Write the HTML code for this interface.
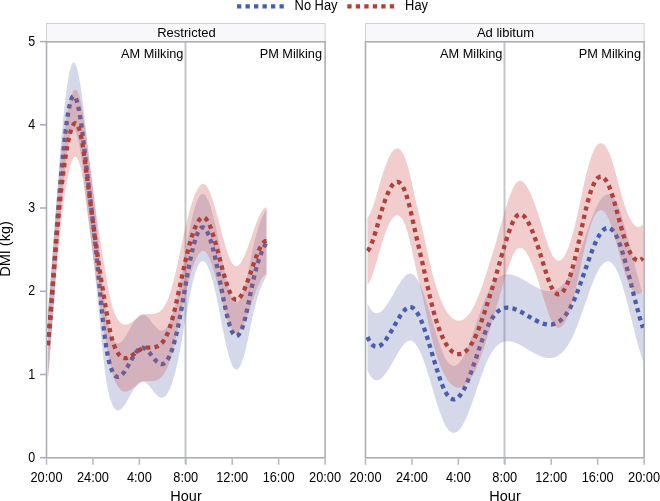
<!DOCTYPE html>
<html><head><meta charset="utf-8"><title>DMI by Hour</title>
<style>html,body{margin:0;padding:0;background:#fff;}svg{display:block;will-change:transform;}</style>
</head><body>
<svg width="660" height="501" viewBox="0 0 660 501">
<rect width="660" height="501" fill="#fff"/>
<line x1="237" y1="6.4" x2="288" y2="6.4" stroke="#4A5DAC" stroke-width="4.3" stroke-dasharray="4.3 4.2"/>
<text transform="translate(294.6,9.8) scale(0.92,1)" font-family="Liberation Sans, sans-serif" font-size="14" fill="#000">No Hay</text>
<line x1="347.3" y1="6.4" x2="398" y2="6.4" stroke="#B0403A" stroke-width="4.3" stroke-dasharray="4.3 4.2"/>
<text transform="translate(405.1,9.8) scale(0.92,1)" font-family="Liberation Sans, sans-serif" font-size="14" fill="#000">Hay</text>
<rect x="46.5" y="23.5" width="278.6" height="18" fill="#F8F8FA" stroke="#D0D0D0" stroke-width="1"/>
<text x="186.5" y="36.5" font-family="Liberation Sans, sans-serif" font-size="13" text-anchor="middle" fill="#000">Restricted</text>
<line x1="185.5" y1="42" x2="185.5" y2="464" stroke="#C3C6CA" stroke-width="2"/>
<rect x="46.5" y="41.8" width="278.6" height="416" fill="none" stroke="#ABAFB4" stroke-width="1.6"/>
<line x1="46.5" y1="458.6" x2="46.5" y2="464.8" stroke="#B8BCC0" stroke-width="1.6"/>
<line x1="92.93" y1="458.6" x2="92.93" y2="464.8" stroke="#B8BCC0" stroke-width="1.6"/>
<line x1="139.36" y1="458.6" x2="139.36" y2="464.8" stroke="#B8BCC0" stroke-width="1.6"/>
<line x1="185.79" y1="458.6" x2="185.79" y2="464.8" stroke="#B8BCC0" stroke-width="1.6"/>
<line x1="232.22" y1="458.6" x2="232.22" y2="464.8" stroke="#B8BCC0" stroke-width="1.6"/>
<line x1="278.65" y1="458.6" x2="278.65" y2="464.8" stroke="#B8BCC0" stroke-width="1.6"/>
<line x1="325.08" y1="458.6" x2="325.08" y2="464.8" stroke="#B8BCC0" stroke-width="1.6"/>
<text transform="translate(46.5,482.1) scale(0.895,1)" font-family="Liberation Sans, sans-serif" font-size="14.3" text-anchor="middle" fill="#000">20:00</text>
<text transform="translate(92.93,482.1) scale(0.895,1)" font-family="Liberation Sans, sans-serif" font-size="14.3" text-anchor="middle" fill="#000">24:00</text>
<text transform="translate(139.36,482.1) scale(0.895,1)" font-family="Liberation Sans, sans-serif" font-size="14.3" text-anchor="middle" fill="#000">4:00</text>
<text transform="translate(185.79,482.1) scale(0.895,1)" font-family="Liberation Sans, sans-serif" font-size="14.3" text-anchor="middle" fill="#000">8:00</text>
<text transform="translate(232.22,482.1) scale(0.895,1)" font-family="Liberation Sans, sans-serif" font-size="14.3" text-anchor="middle" fill="#000">12:00</text>
<text transform="translate(278.65,482.1) scale(0.895,1)" font-family="Liberation Sans, sans-serif" font-size="14.3" text-anchor="middle" fill="#000">16:00</text>
<text transform="translate(325.08,482.1) scale(0.895,1)" font-family="Liberation Sans, sans-serif" font-size="14.3" text-anchor="middle" fill="#000">20:00</text>
<text x="322" y="57.6" font-family="Liberation Sans, sans-serif" font-size="12.75" text-anchor="end" fill="#000">PM Milking</text>
<text x="183.4" y="57.6" font-family="Liberation Sans, sans-serif" font-size="12.75" text-anchor="end" fill="#000">AM Milking</text>
<text x="186" y="500.8" font-family="Liberation Sans, sans-serif" font-size="14.5" text-anchor="middle" fill="#000">Hour</text>
<rect x="365.5" y="23.5" width="278.6" height="18" fill="#F8F8FA" stroke="#D0D0D0" stroke-width="1"/>
<text x="505.5" y="36.5" font-family="Liberation Sans, sans-serif" font-size="13" text-anchor="middle" fill="#000">Ad libitum</text>
<line x1="504.5" y1="42" x2="504.5" y2="464" stroke="#C3C6CA" stroke-width="2"/>
<rect x="365.5" y="41.8" width="278.6" height="416" fill="none" stroke="#ABAFB4" stroke-width="1.6"/>
<line x1="365.5" y1="458.6" x2="365.5" y2="464.8" stroke="#B8BCC0" stroke-width="1.6"/>
<line x1="411.93" y1="458.6" x2="411.93" y2="464.8" stroke="#B8BCC0" stroke-width="1.6"/>
<line x1="458.36" y1="458.6" x2="458.36" y2="464.8" stroke="#B8BCC0" stroke-width="1.6"/>
<line x1="504.78999999999996" y1="458.6" x2="504.78999999999996" y2="464.8" stroke="#B8BCC0" stroke-width="1.6"/>
<line x1="551.22" y1="458.6" x2="551.22" y2="464.8" stroke="#B8BCC0" stroke-width="1.6"/>
<line x1="597.65" y1="458.6" x2="597.65" y2="464.8" stroke="#B8BCC0" stroke-width="1.6"/>
<line x1="644.0799999999999" y1="458.6" x2="644.0799999999999" y2="464.8" stroke="#B8BCC0" stroke-width="1.6"/>
<text transform="translate(365.5,482.1) scale(0.895,1)" font-family="Liberation Sans, sans-serif" font-size="14.3" text-anchor="middle" fill="#000">20:00</text>
<text transform="translate(411.93,482.1) scale(0.895,1)" font-family="Liberation Sans, sans-serif" font-size="14.3" text-anchor="middle" fill="#000">24:00</text>
<text transform="translate(458.36,482.1) scale(0.895,1)" font-family="Liberation Sans, sans-serif" font-size="14.3" text-anchor="middle" fill="#000">4:00</text>
<text transform="translate(504.78999999999996,482.1) scale(0.895,1)" font-family="Liberation Sans, sans-serif" font-size="14.3" text-anchor="middle" fill="#000">8:00</text>
<text transform="translate(551.22,482.1) scale(0.895,1)" font-family="Liberation Sans, sans-serif" font-size="14.3" text-anchor="middle" fill="#000">12:00</text>
<text transform="translate(597.65,482.1) scale(0.895,1)" font-family="Liberation Sans, sans-serif" font-size="14.3" text-anchor="middle" fill="#000">16:00</text>
<text transform="translate(644.0799999999999,482.1) scale(0.895,1)" font-family="Liberation Sans, sans-serif" font-size="14.3" text-anchor="middle" fill="#000">20:00</text>
<text x="641" y="57.6" font-family="Liberation Sans, sans-serif" font-size="12.75" text-anchor="end" fill="#000">PM Milking</text>
<text x="502.4" y="57.6" font-family="Liberation Sans, sans-serif" font-size="12.75" text-anchor="end" fill="#000">AM Milking</text>
<text x="505" y="500.8" font-family="Liberation Sans, sans-serif" font-size="14.5" text-anchor="middle" fill="#000">Hour</text>
<clipPath id="cL"><rect x="47" y="42" width="278" height="415"/></clipPath>
<g clip-path="url(#cL)">
<polygon points="47.8,311.9 48.3,307.4 48.8,302.5 49.3,297.2 49.8,291.5 50.3,285.6 50.8,279.3 51.3,272.8 51.8,266.1 52.3,259.3 52.8,252.2 53.3,245.2 53.8,238.0 54.3,230.8 54.8,223.7 55.3,216.6 55.8,209.5 56.3,202.6 56.8,195.7 57.3,189.0 57.8,182.3 58.3,175.7 58.8,169.3 59.3,163.0 59.8,156.9 60.3,150.9 60.8,145.0 61.3,139.4 61.8,133.8 62.3,128.5 62.8,123.3 63.3,118.3 63.8,113.4 64.3,108.8 64.8,104.3 65.3,100.0 65.8,95.9 66.3,92.0 66.8,88.3 67.3,84.9 67.8,81.6 68.3,78.6 68.8,75.9 69.3,73.3 69.8,71.1 70.3,69.0 70.8,67.3 71.3,65.8 71.8,64.6 72.3,63.7 72.8,63.0 73.3,62.7 73.8,62.6 74.3,62.8 74.8,63.2 75.3,63.9 75.8,64.9 76.3,66.1 76.8,67.5 77.3,69.2 77.8,71.2 78.3,73.4 78.8,75.8 79.3,78.4 79.8,81.2 80.3,84.3 80.8,87.5 81.3,91.0 81.8,94.7 82.3,98.5 82.8,102.5 83.3,106.7 83.8,110.9 84.3,115.3 84.8,119.6 85.3,124.0 85.8,128.4 86.3,132.7 86.8,137.0 87.3,141.2 87.8,145.4 88.3,149.5 88.8,153.6 89.3,157.7 89.8,161.7 90.3,165.8 90.8,170.0 91.3,174.1 91.8,178.3 92.3,182.6 92.8,186.9 93.3,191.3 93.8,195.8 94.3,200.4 94.8,205.0 95.3,209.8 95.8,214.6 96.3,219.5 96.8,224.5 97.3,229.6 97.8,234.6 98.3,239.8 98.8,245.0 99.3,250.2 99.8,255.5 100.3,260.7 100.8,265.9 101.3,271.1 101.8,276.1 102.3,281.0 102.8,285.8 103.3,290.5 103.8,294.9 104.3,299.1 104.8,303.2 105.3,306.9 105.8,310.4 106.3,313.7 106.8,316.7 107.3,319.5 107.8,322.1 108.3,324.5 108.8,326.7 109.3,328.7 109.8,330.6 110.3,332.3 110.8,333.8 111.3,335.2 111.8,336.5 112.3,337.6 112.8,338.7 113.3,339.6 113.8,340.4 114.3,341.1 114.8,341.7 115.3,342.2 115.8,342.7 116.3,343.0 116.8,343.2 117.3,343.4 117.8,343.4 118.3,343.4 118.8,343.3 119.3,343.2 119.8,343.0 120.3,342.7 120.8,342.3 121.3,341.9 121.8,341.4 122.3,340.9 122.8,340.3 123.3,339.7 123.8,339.1 124.3,338.4 124.8,337.7 125.3,336.9 125.8,336.1 126.3,335.3 126.8,334.4 127.3,333.6 127.8,332.7 128.3,331.8 128.8,330.9 129.3,330.0 129.8,329.1 130.3,328.2 130.8,327.3 131.3,326.4 131.8,325.5 132.3,324.7 132.8,323.8 133.3,323.0 133.8,322.2 134.3,321.4 134.8,320.6 135.3,319.9 135.8,319.2 136.3,318.6 136.8,317.9 137.3,317.3 137.8,316.8 138.3,316.3 138.8,315.9 139.3,315.5 139.8,315.1 140.3,314.8 140.8,314.6 141.3,314.4 141.8,314.3 142.3,314.2 142.8,314.2 143.3,314.3 143.8,314.5 144.3,314.7 144.8,314.9 145.3,315.2 145.8,315.6 146.3,316.0 146.8,316.4 147.3,316.9 147.8,317.4 148.3,317.9 148.8,318.5 149.3,319.0 149.8,319.6 150.3,320.3 150.8,320.9 151.3,321.5 151.8,322.2 152.3,322.8 152.8,323.4 153.3,324.1 153.8,324.7 154.3,325.3 154.8,325.9 155.3,326.5 155.8,327.0 156.3,327.6 156.8,328.1 157.3,328.5 157.8,329.0 158.3,329.4 158.8,329.7 159.3,330.0 159.8,330.3 160.3,330.5 160.8,330.6 161.3,330.7 161.8,330.7 162.3,330.7 162.8,330.5 163.3,330.4 163.8,330.1 164.3,329.8 164.8,329.4 165.3,329.0 165.8,328.5 166.3,327.9 166.8,327.2 167.3,326.5 167.8,325.7 168.3,324.8 168.8,323.9 169.3,322.9 169.8,321.8 170.3,320.6 170.8,319.4 171.3,318.1 171.8,316.7 172.3,315.3 172.8,313.7 173.3,312.1 173.8,310.4 174.3,308.7 174.8,306.8 175.3,304.9 175.8,302.9 176.3,300.8 176.8,298.7 177.3,296.5 177.8,294.1 178.3,291.7 178.8,289.3 179.3,286.7 179.8,284.1 180.3,281.5 180.8,278.7 181.3,276.0 181.8,273.2 182.3,270.4 182.8,267.5 183.3,264.6 183.8,261.8 184.3,258.9 184.8,256.0 185.3,253.1 185.8,250.2 186.3,247.4 186.8,244.6 187.3,241.8 187.8,239.1 188.3,236.4 188.8,233.7 189.3,231.2 189.8,228.7 190.3,226.2 190.8,223.8 191.3,221.5 191.8,219.3 192.3,217.1 192.8,215.1 193.3,213.1 193.8,211.2 194.3,209.3 194.8,207.6 195.3,206.0 195.8,204.4 196.3,203.0 196.8,201.6 197.3,200.4 197.8,199.2 198.3,198.2 198.8,197.3 199.3,196.4 199.8,195.7 200.3,195.2 200.8,194.7 201.3,194.4 201.8,194.1 202.3,194.0 202.8,194.0 203.3,194.1 203.8,194.3 204.3,194.6 204.8,195.1 205.3,195.6 205.8,196.2 206.3,196.9 206.8,197.7 207.3,198.6 207.8,199.7 208.3,200.8 208.8,201.9 209.3,203.2 209.8,204.6 210.3,206.0 210.8,207.6 211.3,209.2 211.8,210.9 212.3,212.6 212.8,214.5 213.3,216.4 213.8,218.4 214.3,220.4 214.8,222.6 215.3,224.8 215.8,227.0 216.3,229.3 216.8,231.7 217.3,234.1 217.8,236.6 218.3,239.1 218.8,241.6 219.3,244.2 219.8,246.7 220.3,249.3 220.8,251.9 221.3,254.4 221.8,257.0 222.3,259.5 222.8,262.1 223.3,264.6 223.8,267.0 224.3,269.5 224.8,271.8 225.3,274.2 225.8,276.5 226.3,278.7 226.8,280.8 227.3,282.9 227.8,284.9 228.3,286.8 228.8,288.7 229.3,290.4 229.8,292.1 230.3,293.6 230.8,295.0 231.3,296.3 231.8,297.5 232.3,298.5 232.8,299.5 233.3,300.3 233.8,300.9 234.3,301.5 234.8,301.9 235.3,302.2 235.8,302.4 236.3,302.4 236.8,302.4 237.3,302.2 237.8,301.9 238.3,301.5 238.8,300.9 239.3,300.3 239.8,299.5 240.3,298.6 240.8,297.6 241.3,296.5 241.8,295.3 242.3,294.0 242.8,292.5 243.3,291.0 243.8,289.3 244.3,287.6 244.8,285.7 245.3,283.8 245.8,281.7 246.3,279.6 246.8,277.4 247.3,275.2 247.8,272.9 248.3,270.5 248.8,268.2 249.3,265.8 249.8,263.3 250.3,260.9 250.8,258.5 251.3,256.1 251.8,253.7 252.3,251.3 252.8,249.0 253.3,246.7 253.8,244.5 254.3,242.4 254.8,240.3 255.3,238.3 255.8,236.4 256.3,234.5 256.8,232.7 257.3,231.0 257.8,229.3 258.3,227.8 258.8,226.2 259.3,224.8 259.8,223.4 260.3,222.0 260.8,220.7 261.3,219.5 261.8,218.3 262.3,217.1 262.8,216.0 263.3,215.0 263.8,213.9 264.3,212.9 264.8,212.0 265.3,211.1 265.8,210.2 266.3,209.3 266.5,209.0 266.5,276.0 266.3,276.3 265.8,277.2 265.3,278.1 264.8,279.0 264.3,279.9 263.8,280.9 263.3,282.0 262.8,283.0 262.3,284.1 261.8,285.3 261.3,286.5 260.8,287.7 260.3,289.0 259.8,290.4 259.3,291.8 258.8,293.2 258.3,294.8 257.8,296.3 257.3,298.0 256.8,299.7 256.3,301.5 255.8,303.4 255.3,305.3 254.8,307.3 254.3,309.4 253.8,311.5 253.3,313.7 252.8,316.0 252.3,318.3 251.8,320.7 251.3,323.1 250.8,325.5 250.3,327.9 249.8,330.3 249.3,332.8 248.8,335.2 248.3,337.5 247.8,339.9 247.3,342.2 246.8,344.4 246.3,346.6 245.8,348.7 245.3,350.8 244.8,352.7 244.3,354.6 243.8,356.3 243.3,358.0 242.8,359.5 242.3,361.0 241.8,362.3 241.3,363.5 240.8,364.6 240.3,365.6 239.8,366.5 239.3,367.3 238.8,367.9 238.3,368.5 237.8,368.9 237.3,369.2 236.8,369.4 236.3,369.4 235.8,369.4 235.3,369.2 234.8,368.9 234.3,368.5 233.8,367.9 233.3,367.3 232.8,366.5 232.3,365.5 231.8,364.5 231.3,363.3 230.8,362.0 230.3,360.6 229.8,359.1 229.3,357.4 228.8,355.7 228.3,353.8 227.8,351.9 227.3,349.9 226.8,347.8 226.3,345.7 225.8,343.5 225.3,341.2 224.8,338.8 224.3,336.5 223.8,334.0 223.3,331.6 222.8,329.1 222.3,326.5 221.8,324.0 221.3,321.4 220.8,318.9 220.3,316.3 219.8,313.7 219.3,311.2 218.8,308.6 218.3,306.1 217.8,303.6 217.3,301.1 216.8,298.7 216.3,296.3 215.8,294.0 215.3,291.8 214.8,289.6 214.3,287.4 213.8,285.4 213.3,283.4 212.8,281.5 212.3,279.6 211.8,277.9 211.3,276.2 210.8,274.6 210.3,273.0 209.8,271.6 209.3,270.2 208.8,268.9 208.3,267.8 207.8,266.7 207.3,265.6 206.8,264.7 206.3,263.9 205.8,263.2 205.3,262.6 204.8,262.1 204.3,261.6 203.8,261.3 203.3,261.1 202.8,261.0 202.3,261.0 201.8,261.1 201.3,261.4 200.8,261.7 200.3,262.2 199.8,262.7 199.3,263.4 198.8,264.3 198.3,265.2 197.8,266.2 197.3,267.4 196.8,268.6 196.3,270.0 195.8,271.4 195.3,273.0 194.8,274.6 194.3,276.3 193.8,278.2 193.3,280.1 192.8,282.1 192.3,284.1 191.8,286.3 191.3,288.5 190.8,290.8 190.3,293.2 189.8,295.7 189.3,298.2 188.8,300.7 188.3,303.4 187.8,306.1 187.3,308.8 186.8,311.6 186.3,314.4 185.8,317.2 185.3,320.1 184.8,323.0 184.3,325.9 183.8,328.8 183.3,331.6 182.8,334.5 182.3,337.4 181.8,340.2 181.3,343.0 180.8,345.7 180.3,348.5 179.8,351.1 179.3,353.7 178.8,356.3 178.3,358.7 177.8,361.1 177.3,363.5 176.8,365.7 176.3,367.8 175.8,369.9 175.3,371.9 174.8,373.8 174.3,375.7 173.8,377.4 173.3,379.1 172.8,380.7 172.3,382.3 171.8,383.7 171.3,385.1 170.8,386.4 170.3,387.6 169.8,388.8 169.3,389.9 168.8,390.9 168.3,391.8 167.8,392.7 167.3,393.5 166.8,394.2 166.3,394.9 165.8,395.5 165.3,396.0 164.8,396.4 164.3,396.8 163.8,397.1 163.3,397.4 162.8,397.5 162.3,397.7 161.8,397.7 161.3,397.7 160.8,397.6 160.3,397.5 159.8,397.3 159.3,397.0 158.8,396.7 158.3,396.4 157.8,396.0 157.3,395.5 156.8,395.1 156.3,394.6 155.8,394.0 155.3,393.5 154.8,392.9 154.3,392.3 153.8,391.7 153.3,391.1 152.8,390.4 152.3,389.8 151.8,389.2 151.3,388.5 150.8,387.9 150.3,387.3 149.8,386.6 149.3,386.0 148.8,385.5 148.3,384.9 147.8,384.4 147.3,383.9 146.8,383.4 146.3,383.0 145.8,382.6 145.3,382.2 144.8,381.9 144.3,381.7 143.8,381.5 143.3,381.3 142.8,381.2 142.3,381.2 141.8,381.3 141.3,381.4 140.8,381.6 140.3,381.8 139.8,382.1 139.3,382.5 138.8,382.9 138.3,383.3 137.8,383.8 137.3,384.3 136.8,384.9 136.3,385.6 135.8,386.2 135.3,386.9 134.8,387.6 134.3,388.4 133.8,389.2 133.3,390.0 132.8,390.8 132.3,391.7 131.8,392.5 131.3,393.4 130.8,394.3 130.3,395.2 129.8,396.1 129.3,397.0 128.8,397.9 128.3,398.8 127.8,399.7 127.3,400.6 126.8,401.4 126.3,402.3 125.8,403.1 125.3,403.9 124.8,404.7 124.3,405.4 123.8,406.1 123.3,406.7 122.8,407.3 122.3,407.9 121.8,408.4 121.3,408.9 120.8,409.3 120.3,409.7 119.8,410.0 119.3,410.2 118.8,410.3 118.3,410.4 117.8,410.4 117.3,410.4 116.8,410.2 116.3,410.0 115.8,409.7 115.3,409.2 114.8,408.7 114.3,408.1 113.8,407.4 113.3,406.6 112.8,405.7 112.3,404.6 111.8,403.5 111.3,402.2 110.8,400.8 110.3,399.3 109.8,397.6 109.3,395.7 108.8,393.7 108.3,391.5 107.8,389.1 107.3,386.5 106.8,383.7 106.3,380.7 105.8,377.4 105.3,373.9 104.8,370.2 104.3,366.1 103.8,361.9 103.3,357.5 102.8,352.8 102.3,348.0 101.8,343.1 101.3,338.1 100.8,332.9 100.3,327.7 99.8,322.5 99.3,317.2 98.8,312.0 98.3,306.8 97.8,301.6 97.3,296.6 96.8,291.5 96.3,286.5 95.8,281.6 95.3,276.8 94.8,272.0 94.3,267.4 93.8,262.8 93.3,258.3 92.8,253.9 92.3,249.6 91.8,245.3 91.3,241.1 90.8,237.0 90.3,232.8 89.8,228.7 89.3,224.7 88.8,220.6 88.3,216.5 87.8,212.4 87.3,208.2 86.8,204.0 86.3,199.7 85.8,195.4 85.3,191.0 84.8,186.6 84.3,182.3 83.8,177.9 83.3,173.7 82.8,169.5 82.3,165.5 81.8,161.7 81.3,158.0 80.8,154.5 80.3,151.3 79.8,148.2 79.3,145.4 78.8,142.8 78.3,140.4 77.8,138.2 77.3,136.2 76.8,134.5 76.3,133.1 75.8,131.9 75.3,130.9 74.8,130.2 74.3,129.8 73.8,129.6 73.3,129.7 72.8,130.0 72.3,130.7 71.8,131.6 71.3,132.8 70.8,134.3 70.3,136.0 69.8,138.1 69.3,140.3 68.8,142.9 68.3,145.6 67.8,148.6 67.3,151.9 66.8,155.3 66.3,159.0 65.8,162.9 65.3,167.0 64.8,171.3 64.3,175.8 63.8,180.4 63.3,185.3 62.8,190.3 62.3,195.5 61.8,200.8 61.3,206.4 60.8,212.0 60.3,217.9 59.8,223.9 59.3,230.0 58.8,236.3 58.3,242.7 57.8,249.3 57.3,256.0 56.8,262.7 56.3,269.6 55.8,276.5 55.3,283.6 54.8,290.7 54.3,297.8 53.8,305.0 53.3,312.2 52.8,319.2 52.3,326.3 51.8,333.1 51.3,339.8 50.8,346.3 50.3,352.6 49.8,358.5 49.3,364.2 48.8,369.5 48.3,374.4 47.8,378.9" fill="#6F7EB3" fill-opacity="0.3"/>
<polyline points="47.8,345.4 48.3,340.9 48.8,336.0 49.3,330.7 49.8,325.0 50.3,319.1 50.8,312.8 51.3,306.3 51.8,299.6 52.3,292.8 52.8,285.7 53.3,278.7 53.8,271.5 54.3,264.3 54.8,257.2 55.3,250.1 55.8,243.0 56.3,236.1 56.8,229.2 57.3,222.5 57.8,215.8 58.3,209.2 58.8,202.8 59.3,196.5 59.8,190.4 60.3,184.4 60.8,178.5 61.3,172.9 61.8,167.3 62.3,162.0 62.8,156.8 63.3,151.8 63.8,146.9 64.3,142.3 64.8,137.8 65.3,133.5 65.8,129.4 66.3,125.5 66.8,121.8 67.3,118.4 67.8,115.1 68.3,112.1 68.8,109.4 69.3,106.8 69.8,104.6 70.3,102.5 70.8,100.8 71.3,99.3 71.8,98.1 72.3,97.2 72.8,96.5 73.3,96.2 73.8,96.1 74.3,96.3 74.8,96.7 75.3,97.4 75.8,98.4 76.3,99.6 76.8,101.0 77.3,102.7 77.8,104.7 78.3,106.9 78.8,109.3 79.3,111.9 79.8,114.7 80.3,117.8 80.8,121.0 81.3,124.5 81.8,128.2 82.3,132.0 82.8,136.0 83.3,140.2 83.8,144.4 84.3,148.8 84.8,153.1 85.3,157.5 85.8,161.9 86.3,166.2 86.8,170.5 87.3,174.7 87.8,178.9 88.3,183.0 88.8,187.1 89.3,191.2 89.8,195.2 90.3,199.3 90.8,203.5 91.3,207.6 91.8,211.8 92.3,216.1 92.8,220.4 93.3,224.8 93.8,229.3 94.3,233.9 94.8,238.5 95.3,243.3 95.8,248.1 96.3,253.0 96.8,258.0 97.3,263.1 97.8,268.1 98.3,273.3 98.8,278.5 99.3,283.7 99.8,289.0 100.3,294.2 100.8,299.4 101.3,304.6 101.8,309.6 102.3,314.5 102.8,319.3 103.3,324.0 103.8,328.4 104.3,332.6 104.8,336.7 105.3,340.4 105.8,343.9 106.3,347.2 106.8,350.2 107.3,353.0 107.8,355.6 108.3,358.0 108.8,360.2 109.3,362.2 109.8,364.1 110.3,365.8 110.8,367.3 111.3,368.7 111.8,370.0 112.3,371.1 112.8,372.2 113.3,373.1 113.8,373.9 114.3,374.6 114.8,375.2 115.3,375.7 115.8,376.2 116.3,376.5 116.8,376.7 117.3,376.9 117.8,376.9 118.3,376.9 118.8,376.8 119.3,376.7 119.8,376.5 120.3,376.2 120.8,375.8 121.3,375.4 121.8,374.9 122.3,374.4 122.8,373.8 123.3,373.2 123.8,372.6 124.3,371.9 124.8,371.2 125.3,370.4 125.8,369.6 126.3,368.8 126.8,367.9 127.3,367.1 127.8,366.2 128.3,365.3 128.8,364.4 129.3,363.5 129.8,362.6 130.3,361.7 130.8,360.8 131.3,359.9 131.8,359.0 132.3,358.2 132.8,357.3 133.3,356.5 133.8,355.7 134.3,354.9 134.8,354.1 135.3,353.4 135.8,352.7 136.3,352.1 136.8,351.4 137.3,350.8 137.8,350.3 138.3,349.8 138.8,349.4 139.3,349.0 139.8,348.6 140.3,348.3 140.8,348.1 141.3,347.9 141.8,347.8 142.3,347.7 142.8,347.7 143.3,347.8 143.8,348.0 144.3,348.2 144.8,348.4 145.3,348.7 145.8,349.1 146.3,349.5 146.8,349.9 147.3,350.4 147.8,350.9 148.3,351.4 148.8,352.0 149.3,352.5 149.8,353.1 150.3,353.8 150.8,354.4 151.3,355.0 151.8,355.7 152.3,356.3 152.8,356.9 153.3,357.6 153.8,358.2 154.3,358.8 154.8,359.4 155.3,360.0 155.8,360.5 156.3,361.1 156.8,361.6 157.3,362.0 157.8,362.5 158.3,362.9 158.8,363.2 159.3,363.5 159.8,363.8 160.3,364.0 160.8,364.1 161.3,364.2 161.8,364.2 162.3,364.2 162.8,364.0 163.3,363.9 163.8,363.6 164.3,363.3 164.8,362.9 165.3,362.5 165.8,362.0 166.3,361.4 166.8,360.7 167.3,360.0 167.8,359.2 168.3,358.3 168.8,357.4 169.3,356.4 169.8,355.3 170.3,354.1 170.8,352.9 171.3,351.6 171.8,350.2 172.3,348.8 172.8,347.2 173.3,345.6 173.8,343.9 174.3,342.2 174.8,340.3 175.3,338.4 175.8,336.4 176.3,334.3 176.8,332.2 177.3,330.0 177.8,327.6 178.3,325.2 178.8,322.8 179.3,320.2 179.8,317.6 180.3,315.0 180.8,312.2 181.3,309.5 181.8,306.7 182.3,303.9 182.8,301.0 183.3,298.1 183.8,295.3 184.3,292.4 184.8,289.5 185.3,286.6 185.8,283.7 186.3,280.9 186.8,278.1 187.3,275.3 187.8,272.6 188.3,269.9 188.8,267.2 189.3,264.7 189.8,262.2 190.3,259.7 190.8,257.3 191.3,255.0 191.8,252.8 192.3,250.6 192.8,248.6 193.3,246.6 193.8,244.7 194.3,242.8 194.8,241.1 195.3,239.5 195.8,237.9 196.3,236.5 196.8,235.1 197.3,233.9 197.8,232.7 198.3,231.7 198.8,230.8 199.3,229.9 199.8,229.2 200.3,228.7 200.8,228.2 201.3,227.9 201.8,227.6 202.3,227.5 202.8,227.5 203.3,227.6 203.8,227.8 204.3,228.1 204.8,228.6 205.3,229.1 205.8,229.7 206.3,230.4 206.8,231.2 207.3,232.1 207.8,233.2 208.3,234.3 208.8,235.4 209.3,236.7 209.8,238.1 210.3,239.5 210.8,241.1 211.3,242.7 211.8,244.4 212.3,246.1 212.8,248.0 213.3,249.9 213.8,251.9 214.3,253.9 214.8,256.1 215.3,258.3 215.8,260.5 216.3,262.8 216.8,265.2 217.3,267.6 217.8,270.1 218.3,272.6 218.8,275.1 219.3,277.7 219.8,280.2 220.3,282.8 220.8,285.4 221.3,287.9 221.8,290.5 222.3,293.0 222.8,295.6 223.3,298.1 223.8,300.5 224.3,303.0 224.8,305.3 225.3,307.7 225.8,310.0 226.3,312.2 226.8,314.3 227.3,316.4 227.8,318.4 228.3,320.3 228.8,322.2 229.3,323.9 229.8,325.6 230.3,327.1 230.8,328.5 231.3,329.8 231.8,331.0 232.3,332.0 232.8,333.0 233.3,333.8 233.8,334.4 234.3,335.0 234.8,335.4 235.3,335.7 235.8,335.9 236.3,335.9 236.8,335.9 237.3,335.7 237.8,335.4 238.3,335.0 238.8,334.4 239.3,333.8 239.8,333.0 240.3,332.1 240.8,331.1 241.3,330.0 241.8,328.8 242.3,327.5 242.8,326.0 243.3,324.5 243.8,322.8 244.3,321.1 244.8,319.2 245.3,317.3 245.8,315.2 246.3,313.1 246.8,310.9 247.3,308.7 247.8,306.4 248.3,304.0 248.8,301.7 249.3,299.3 249.8,296.8 250.3,294.4 250.8,292.0 251.3,289.6 251.8,287.2 252.3,284.8 252.8,282.5 253.3,280.2 253.8,278.0 254.3,275.9 254.8,273.8 255.3,271.8 255.8,269.9 256.3,268.0 256.8,266.2 257.3,264.5 257.8,262.8 258.3,261.3 258.8,259.7 259.3,258.3 259.8,256.9 260.3,255.5 260.8,254.2 261.3,253.0 261.8,251.8 262.3,250.6 262.8,249.5 263.3,248.5 263.8,247.4 264.3,246.4 264.8,245.5 265.3,244.6 265.8,243.7 266.3,242.8 266.5,242.5" fill="none" stroke="#4A5DAC" stroke-width="4.3" stroke-dasharray="4.3 4.2" stroke-linejoin="miter"/>
<polygon points="47.8,311.4 48.3,306.0 48.8,300.3 49.3,294.5 49.8,288.6 50.3,282.5 50.8,276.3 51.3,270.0 51.8,263.6 52.3,257.3 52.8,250.9 53.3,244.5 53.8,238.1 54.3,231.8 54.8,225.5 55.3,219.3 55.8,213.3 56.3,207.3 56.8,201.5 57.3,195.8 57.8,190.3 58.3,184.9 58.8,179.6 59.3,174.5 59.8,169.5 60.3,164.7 60.8,160.0 61.3,155.5 61.8,151.1 62.3,146.9 62.8,142.8 63.3,138.9 63.8,135.1 64.3,131.4 64.8,128.0 65.3,124.6 65.8,121.4 66.3,118.3 66.8,115.4 67.3,112.6 67.8,110.0 68.3,107.5 68.8,105.1 69.3,102.9 69.8,100.9 70.3,99.0 70.8,97.3 71.3,95.8 71.8,94.4 72.3,93.2 72.8,92.2 73.3,91.3 73.8,90.6 74.3,90.1 74.8,89.8 75.3,89.7 75.8,89.8 76.3,90.1 76.8,90.5 77.3,91.2 77.8,92.1 78.3,93.2 78.8,94.5 79.3,96.0 79.8,97.7 80.3,99.7 80.8,101.8 81.3,104.2 81.8,106.8 82.3,109.6 82.8,112.7 83.3,115.8 83.8,119.2 84.3,122.6 84.8,126.2 85.3,129.9 85.8,133.6 86.3,137.4 86.8,141.2 87.3,145.1 87.8,148.9 88.3,152.8 88.8,156.7 89.3,160.5 89.8,164.4 90.3,168.2 90.8,172.1 91.3,175.9 91.8,179.7 92.3,183.6 92.8,187.3 93.3,191.1 93.8,194.9 94.3,198.6 94.8,202.3 95.3,205.9 95.8,209.6 96.3,213.2 96.8,216.7 97.3,220.3 97.8,223.8 98.3,227.2 98.8,230.6 99.3,234.0 99.8,237.3 100.3,240.5 100.8,243.7 101.3,246.9 101.8,250.1 102.3,253.2 102.8,256.2 103.3,259.3 103.8,262.4 104.3,265.4 104.8,268.5 105.3,271.5 105.8,274.6 106.3,277.5 106.8,280.5 107.3,283.3 107.8,286.1 108.3,288.8 108.8,291.4 109.3,293.9 109.8,296.3 110.3,298.6 110.8,300.7 111.3,302.7 111.8,304.6 112.3,306.4 112.8,308.0 113.3,309.5 113.8,311.0 114.3,312.3 114.8,313.5 115.3,314.7 115.8,315.8 116.3,316.8 116.8,317.7 117.3,318.6 117.8,319.4 118.3,320.2 118.8,320.8 119.3,321.4 119.8,322.0 120.3,322.5 120.8,322.9 121.3,323.3 121.8,323.7 122.3,323.9 122.8,324.2 123.3,324.4 123.8,324.5 124.3,324.6 124.8,324.6 125.3,324.7 125.8,324.6 126.3,324.6 126.8,324.5 127.3,324.4 127.8,324.2 128.3,324.0 128.8,323.8 129.3,323.6 129.8,323.3 130.3,323.1 130.8,322.8 131.3,322.5 131.8,322.1 132.3,321.8 132.8,321.4 133.3,321.1 133.8,320.7 134.3,320.3 134.8,320.0 135.3,319.6 135.8,319.2 136.3,318.8 136.8,318.4 137.3,318.1 137.8,317.7 138.3,317.4 138.8,317.0 139.3,316.7 139.8,316.4 140.3,316.1 140.8,315.8 141.3,315.6 141.8,315.3 142.3,315.1 142.8,314.9 143.3,314.8 143.8,314.6 144.3,314.5 144.8,314.4 145.3,314.3 145.8,314.3 146.3,314.2 146.8,314.2 147.3,314.2 147.8,314.1 148.3,314.1 148.8,314.1 149.3,314.1 149.8,314.1 150.3,314.1 150.8,314.1 151.3,314.1 151.8,314.0 152.3,314.0 152.8,314.0 153.3,313.9 153.8,313.9 154.3,313.8 154.8,313.7 155.3,313.6 155.8,313.4 156.3,313.3 156.8,313.1 157.3,312.9 157.8,312.7 158.3,312.4 158.8,312.1 159.3,311.8 159.8,311.4 160.3,311.0 160.8,310.6 161.3,310.1 161.8,309.6 162.3,309.0 162.8,308.4 163.3,307.7 163.8,307.0 164.3,306.3 164.8,305.5 165.3,304.6 165.8,303.7 166.3,302.7 166.8,301.6 167.3,300.5 167.8,299.4 168.3,298.1 168.8,296.8 169.3,295.5 169.8,294.0 170.3,292.5 170.8,290.9 171.3,289.3 171.8,287.5 172.3,285.7 172.8,283.8 173.3,281.9 173.8,279.9 174.3,277.9 174.8,275.8 175.3,273.7 175.8,271.5 176.3,269.3 176.8,267.1 177.3,264.8 177.8,262.5 178.3,260.2 178.8,257.9 179.3,255.5 179.8,253.2 180.3,250.8 180.8,248.5 181.3,246.1 181.8,243.8 182.3,241.5 182.8,239.2 183.3,236.9 183.8,234.6 184.3,232.4 184.8,230.2 185.3,228.0 185.8,225.8 186.3,223.7 186.8,221.7 187.3,219.6 187.8,217.7 188.3,215.7 188.8,213.8 189.3,211.9 189.8,210.1 190.3,208.4 190.8,206.6 191.3,205.0 191.8,203.4 192.3,201.8 192.8,200.3 193.3,198.8 193.8,197.4 194.3,196.1 194.8,194.8 195.3,193.6 195.8,192.5 196.3,191.4 196.8,190.4 197.3,189.5 197.8,188.6 198.3,187.8 198.8,187.1 199.3,186.4 199.8,185.8 200.3,185.3 200.8,184.9 201.3,184.5 201.8,184.3 202.3,184.1 202.8,184.0 203.3,184.0 203.8,184.1 204.3,184.2 204.8,184.5 205.3,184.8 205.8,185.3 206.3,185.8 206.8,186.4 207.3,187.2 207.8,188.0 208.3,188.9 208.8,189.9 209.3,191.0 209.8,192.1 210.3,193.3 210.8,194.6 211.3,196.0 211.8,197.4 212.3,198.9 212.8,200.4 213.3,202.0 213.8,203.7 214.3,205.4 214.8,207.1 215.3,208.9 215.8,210.6 216.3,212.5 216.8,214.3 217.3,216.2 217.8,218.1 218.3,220.0 218.8,221.9 219.3,223.8 219.8,225.7 220.3,227.6 220.8,229.5 221.3,231.4 221.8,233.3 222.3,235.2 222.8,237.0 223.3,238.9 223.8,240.7 224.3,242.4 224.8,244.1 225.3,245.8 225.8,247.5 226.3,249.1 226.8,250.6 227.3,252.1 227.8,253.6 228.3,254.9 228.8,256.2 229.3,257.5 229.8,258.6 230.3,259.7 230.8,260.8 231.3,261.7 231.8,262.6 232.3,263.4 232.8,264.1 233.3,264.7 233.8,265.2 234.3,265.6 234.8,265.9 235.3,266.1 235.8,266.3 236.3,266.3 236.8,266.2 237.3,266.1 237.8,265.8 238.3,265.5 238.8,265.1 239.3,264.6 239.8,264.0 240.3,263.4 240.8,262.7 241.3,261.9 241.8,261.1 242.3,260.2 242.8,259.2 243.3,258.2 243.8,257.2 244.3,256.1 244.8,254.9 245.3,253.7 245.8,252.5 246.3,251.2 246.8,249.9 247.3,248.6 247.8,247.2 248.3,245.8 248.8,244.4 249.3,243.0 249.8,241.6 250.3,240.1 250.8,238.7 251.3,237.2 251.8,235.8 252.3,234.3 252.8,232.9 253.3,231.4 253.8,230.0 254.3,228.6 254.8,227.2 255.3,225.8 255.8,224.5 256.3,223.1 256.8,221.9 257.3,220.6 257.8,219.4 258.3,218.2 258.8,217.0 259.3,216.0 259.8,214.9 260.3,213.9 260.8,213.0 261.3,212.1 261.8,211.3 262.3,210.6 262.8,209.9 263.3,209.3 263.8,208.7 264.3,208.3 264.8,207.9 265.3,207.6 265.8,207.5 266.3,207.3 266.5,207.3 266.5,274.3 266.3,274.3 265.8,274.5 265.3,274.6 264.8,274.9 264.3,275.3 263.8,275.7 263.3,276.3 262.8,276.9 262.3,277.6 261.8,278.3 261.3,279.1 260.8,280.0 260.3,280.9 259.8,281.9 259.3,283.0 258.8,284.0 258.3,285.2 257.8,286.4 257.3,287.6 256.8,288.9 256.3,290.1 255.8,291.5 255.3,292.8 254.8,294.2 254.3,295.6 253.8,297.0 253.3,298.4 252.8,299.9 252.3,301.3 251.8,302.8 251.3,304.2 250.8,305.7 250.3,307.1 249.8,308.6 249.3,310.0 248.8,311.4 248.3,312.8 247.8,314.2 247.3,315.6 246.8,316.9 246.3,318.2 245.8,319.5 245.3,320.7 244.8,321.9 244.3,323.1 243.8,324.2 243.3,325.2 242.8,326.2 242.3,327.2 241.8,328.1 241.3,328.9 240.8,329.7 240.3,330.4 239.8,331.0 239.3,331.6 238.8,332.1 238.3,332.5 237.8,332.8 237.3,333.1 236.8,333.2 236.3,333.3 235.8,333.3 235.3,333.1 234.8,332.9 234.3,332.6 233.8,332.2 233.3,331.7 232.8,331.1 232.3,330.4 231.8,329.6 231.3,328.7 230.8,327.8 230.3,326.7 229.8,325.6 229.3,324.5 228.8,323.2 228.3,321.9 227.8,320.6 227.3,319.1 226.8,317.6 226.3,316.1 225.8,314.5 225.3,312.8 224.8,311.1 224.3,309.4 223.8,307.7 223.3,305.9 222.8,304.0 222.3,302.2 221.8,300.3 221.3,298.4 220.8,296.5 220.3,294.6 219.8,292.7 219.3,290.8 218.8,288.9 218.3,287.0 217.8,285.1 217.3,283.2 216.8,281.3 216.3,279.5 215.8,277.6 215.3,275.9 214.8,274.1 214.3,272.4 213.8,270.7 213.3,269.0 212.8,267.4 212.3,265.9 211.8,264.4 211.3,263.0 210.8,261.6 210.3,260.3 209.8,259.1 209.3,258.0 208.8,256.9 208.3,255.9 207.8,255.0 207.3,254.2 206.8,253.4 206.3,252.8 205.8,252.3 205.3,251.8 204.8,251.5 204.3,251.2 203.8,251.1 203.3,251.0 202.8,251.0 202.3,251.1 201.8,251.3 201.3,251.5 200.8,251.9 200.3,252.3 199.8,252.8 199.3,253.4 198.8,254.1 198.3,254.8 197.8,255.6 197.3,256.5 196.8,257.4 196.3,258.4 195.8,259.5 195.3,260.6 194.8,261.8 194.3,263.1 193.8,264.4 193.3,265.8 192.8,267.3 192.3,268.8 191.8,270.4 191.3,272.0 190.8,273.6 190.3,275.4 189.8,277.1 189.3,278.9 188.8,280.8 188.3,282.7 187.8,284.7 187.3,286.6 186.8,288.7 186.3,290.7 185.8,292.8 185.3,295.0 184.8,297.2 184.3,299.4 183.8,301.6 183.3,303.9 182.8,306.2 182.3,308.5 181.8,310.8 181.3,313.1 180.8,315.5 180.3,317.8 179.8,320.2 179.3,322.5 178.8,324.9 178.3,327.2 177.8,329.5 177.3,331.8 176.8,334.1 176.3,336.3 175.8,338.5 175.3,340.7 174.8,342.8 174.3,344.9 173.8,346.9 173.3,348.9 172.8,350.8 172.3,352.7 171.8,354.5 171.3,356.3 170.8,357.9 170.3,359.5 169.8,361.0 169.3,362.5 168.8,363.8 168.3,365.1 167.8,366.4 167.3,367.5 166.8,368.6 166.3,369.7 165.8,370.7 165.3,371.6 164.8,372.5 164.3,373.3 163.8,374.0 163.3,374.7 162.8,375.4 162.3,376.0 161.8,376.6 161.3,377.1 160.8,377.6 160.3,378.0 159.8,378.4 159.3,378.8 158.8,379.1 158.3,379.4 157.8,379.7 157.3,379.9 156.8,380.1 156.3,380.3 155.8,380.4 155.3,380.6 154.8,380.7 154.3,380.8 153.8,380.9 153.3,380.9 152.8,381.0 152.3,381.0 151.8,381.0 151.3,381.1 150.8,381.1 150.3,381.1 149.8,381.1 149.3,381.1 148.8,381.1 148.3,381.1 147.8,381.1 147.3,381.2 146.8,381.2 146.3,381.2 145.8,381.3 145.3,381.3 144.8,381.4 144.3,381.5 143.8,381.6 143.3,381.8 142.8,381.9 142.3,382.1 141.8,382.3 141.3,382.6 140.8,382.8 140.3,383.1 139.8,383.4 139.3,383.7 138.8,384.0 138.3,384.4 137.8,384.7 137.3,385.1 136.8,385.4 136.3,385.8 135.8,386.2 135.3,386.6 134.8,387.0 134.3,387.3 133.8,387.7 133.3,388.1 132.8,388.4 132.3,388.8 131.8,389.1 131.3,389.5 130.8,389.8 130.3,390.1 129.8,390.3 129.3,390.6 128.8,390.8 128.3,391.0 127.8,391.2 127.3,391.4 126.8,391.5 126.3,391.6 125.8,391.6 125.3,391.7 124.8,391.6 124.3,391.6 123.8,391.5 123.3,391.4 122.8,391.2 122.3,390.9 121.8,390.7 121.3,390.3 120.8,389.9 120.3,389.5 119.8,389.0 119.3,388.4 118.8,387.8 118.3,387.2 117.8,386.4 117.3,385.6 116.8,384.7 116.3,383.8 115.8,382.8 115.3,381.7 114.8,380.5 114.3,379.3 113.8,378.0 113.3,376.5 112.8,375.0 112.3,373.4 111.8,371.6 111.3,369.7 110.8,367.7 110.3,365.6 109.8,363.3 109.3,360.9 108.8,358.4 108.3,355.8 107.8,353.1 107.3,350.3 106.8,347.5 106.3,344.5 105.8,341.6 105.3,338.5 104.8,335.5 104.3,332.4 103.8,329.4 103.3,326.3 102.8,323.2 102.3,320.2 101.8,317.1 101.3,313.9 100.8,310.7 100.3,307.5 99.8,304.3 99.3,301.0 98.8,297.6 98.3,294.2 97.8,290.8 97.3,287.3 96.8,283.7 96.3,280.2 95.8,276.6 95.3,272.9 94.8,269.3 94.3,265.6 93.8,261.9 93.3,258.1 92.8,254.3 92.3,250.6 91.8,246.7 91.3,242.9 90.8,239.1 90.3,235.2 89.8,231.4 89.3,227.5 88.8,223.7 88.3,219.8 87.8,215.9 87.3,212.1 86.8,208.2 86.3,204.4 85.8,200.6 85.3,196.9 84.8,193.2 84.3,189.6 83.8,186.2 83.3,182.8 82.8,179.7 82.3,176.6 81.8,173.8 81.3,171.2 80.8,168.8 80.3,166.7 79.8,164.7 79.3,163.0 78.8,161.5 78.3,160.2 77.8,159.1 77.3,158.2 76.8,157.5 76.3,157.1 75.8,156.8 75.3,156.7 74.8,156.8 74.3,157.1 73.8,157.6 73.3,158.3 72.8,159.2 72.3,160.2 71.8,161.4 71.3,162.8 70.8,164.3 70.3,166.0 69.8,167.9 69.3,169.9 68.8,172.1 68.3,174.5 67.8,177.0 67.3,179.6 66.8,182.4 66.3,185.3 65.8,188.4 65.3,191.6 64.8,195.0 64.3,198.4 63.8,202.1 63.3,205.9 62.8,209.8 62.3,213.9 61.8,218.1 61.3,222.5 60.8,227.0 60.3,231.7 59.8,236.5 59.3,241.5 58.8,246.6 58.3,251.9 57.8,257.3 57.3,262.8 56.8,268.5 56.3,274.3 55.8,280.3 55.3,286.3 54.8,292.5 54.3,298.8 53.8,305.1 53.3,311.5 52.8,317.9 52.3,324.3 51.8,330.6 51.3,337.0 50.8,343.3 50.3,349.5 49.8,355.6 49.3,361.5 48.8,367.3 48.3,373.0 47.8,378.4" fill="#D05B5B" fill-opacity="0.3"/>
<polyline points="47.8,344.9 48.3,339.5 48.8,333.8 49.3,328.0 49.8,322.1 50.3,316.0 50.8,309.8 51.3,303.5 51.8,297.1 52.3,290.8 52.8,284.4 53.3,278.0 53.8,271.6 54.3,265.3 54.8,259.0 55.3,252.8 55.8,246.8 56.3,240.8 56.8,235.0 57.3,229.3 57.8,223.8 58.3,218.4 58.8,213.1 59.3,208.0 59.8,203.0 60.3,198.2 60.8,193.5 61.3,189.0 61.8,184.6 62.3,180.4 62.8,176.3 63.3,172.4 63.8,168.6 64.3,164.9 64.8,161.5 65.3,158.1 65.8,154.9 66.3,151.8 66.8,148.9 67.3,146.1 67.8,143.5 68.3,141.0 68.8,138.6 69.3,136.4 69.8,134.4 70.3,132.5 70.8,130.8 71.3,129.3 71.8,127.9 72.3,126.7 72.8,125.7 73.3,124.8 73.8,124.1 74.3,123.6 74.8,123.3 75.3,123.2 75.8,123.3 76.3,123.6 76.8,124.0 77.3,124.7 77.8,125.6 78.3,126.7 78.8,128.0 79.3,129.5 79.8,131.2 80.3,133.2 80.8,135.3 81.3,137.7 81.8,140.3 82.3,143.1 82.8,146.2 83.3,149.3 83.8,152.7 84.3,156.1 84.8,159.7 85.3,163.4 85.8,167.1 86.3,170.9 86.8,174.7 87.3,178.6 87.8,182.4 88.3,186.3 88.8,190.2 89.3,194.0 89.8,197.9 90.3,201.7 90.8,205.6 91.3,209.4 91.8,213.2 92.3,217.1 92.8,220.8 93.3,224.6 93.8,228.4 94.3,232.1 94.8,235.8 95.3,239.4 95.8,243.1 96.3,246.7 96.8,250.2 97.3,253.8 97.8,257.3 98.3,260.7 98.8,264.1 99.3,267.5 99.8,270.8 100.3,274.0 100.8,277.2 101.3,280.4 101.8,283.6 102.3,286.7 102.8,289.7 103.3,292.8 103.8,295.9 104.3,298.9 104.8,302.0 105.3,305.0 105.8,308.1 106.3,311.0 106.8,314.0 107.3,316.8 107.8,319.6 108.3,322.3 108.8,324.9 109.3,327.4 109.8,329.8 110.3,332.1 110.8,334.2 111.3,336.2 111.8,338.1 112.3,339.9 112.8,341.5 113.3,343.0 113.8,344.5 114.3,345.8 114.8,347.0 115.3,348.2 115.8,349.3 116.3,350.3 116.8,351.2 117.3,352.1 117.8,352.9 118.3,353.7 118.8,354.3 119.3,354.9 119.8,355.5 120.3,356.0 120.8,356.4 121.3,356.8 121.8,357.2 122.3,357.4 122.8,357.7 123.3,357.9 123.8,358.0 124.3,358.1 124.8,358.1 125.3,358.2 125.8,358.1 126.3,358.1 126.8,358.0 127.3,357.9 127.8,357.7 128.3,357.5 128.8,357.3 129.3,357.1 129.8,356.8 130.3,356.6 130.8,356.3 131.3,356.0 131.8,355.6 132.3,355.3 132.8,354.9 133.3,354.6 133.8,354.2 134.3,353.8 134.8,353.5 135.3,353.1 135.8,352.7 136.3,352.3 136.8,351.9 137.3,351.6 137.8,351.2 138.3,350.9 138.8,350.5 139.3,350.2 139.8,349.9 140.3,349.6 140.8,349.3 141.3,349.1 141.8,348.8 142.3,348.6 142.8,348.4 143.3,348.3 143.8,348.1 144.3,348.0 144.8,347.9 145.3,347.8 145.8,347.8 146.3,347.7 146.8,347.7 147.3,347.7 147.8,347.6 148.3,347.6 148.8,347.6 149.3,347.6 149.8,347.6 150.3,347.6 150.8,347.6 151.3,347.6 151.8,347.5 152.3,347.5 152.8,347.5 153.3,347.4 153.8,347.4 154.3,347.3 154.8,347.2 155.3,347.1 155.8,346.9 156.3,346.8 156.8,346.6 157.3,346.4 157.8,346.2 158.3,345.9 158.8,345.6 159.3,345.3 159.8,344.9 160.3,344.5 160.8,344.1 161.3,343.6 161.8,343.1 162.3,342.5 162.8,341.9 163.3,341.2 163.8,340.5 164.3,339.8 164.8,339.0 165.3,338.1 165.8,337.2 166.3,336.2 166.8,335.1 167.3,334.0 167.8,332.9 168.3,331.6 168.8,330.3 169.3,329.0 169.8,327.5 170.3,326.0 170.8,324.4 171.3,322.8 171.8,321.0 172.3,319.2 172.8,317.3 173.3,315.4 173.8,313.4 174.3,311.4 174.8,309.3 175.3,307.2 175.8,305.0 176.3,302.8 176.8,300.6 177.3,298.3 177.8,296.0 178.3,293.7 178.8,291.4 179.3,289.0 179.8,286.7 180.3,284.3 180.8,282.0 181.3,279.6 181.8,277.3 182.3,275.0 182.8,272.7 183.3,270.4 183.8,268.1 184.3,265.9 184.8,263.7 185.3,261.5 185.8,259.3 186.3,257.2 186.8,255.2 187.3,253.1 187.8,251.2 188.3,249.2 188.8,247.3 189.3,245.4 189.8,243.6 190.3,241.9 190.8,240.1 191.3,238.5 191.8,236.9 192.3,235.3 192.8,233.8 193.3,232.3 193.8,230.9 194.3,229.6 194.8,228.3 195.3,227.1 195.8,226.0 196.3,224.9 196.8,223.9 197.3,223.0 197.8,222.1 198.3,221.3 198.8,220.6 199.3,219.9 199.8,219.3 200.3,218.8 200.8,218.4 201.3,218.0 201.8,217.8 202.3,217.6 202.8,217.5 203.3,217.5 203.8,217.6 204.3,217.7 204.8,218.0 205.3,218.3 205.8,218.8 206.3,219.3 206.8,219.9 207.3,220.7 207.8,221.5 208.3,222.4 208.8,223.4 209.3,224.5 209.8,225.6 210.3,226.8 210.8,228.1 211.3,229.5 211.8,230.9 212.3,232.4 212.8,233.9 213.3,235.5 213.8,237.2 214.3,238.9 214.8,240.6 215.3,242.4 215.8,244.1 216.3,246.0 216.8,247.8 217.3,249.7 217.8,251.6 218.3,253.5 218.8,255.4 219.3,257.3 219.8,259.2 220.3,261.1 220.8,263.0 221.3,264.9 221.8,266.8 222.3,268.7 222.8,270.5 223.3,272.4 223.8,274.2 224.3,275.9 224.8,277.6 225.3,279.3 225.8,281.0 226.3,282.6 226.8,284.1 227.3,285.6 227.8,287.1 228.3,288.4 228.8,289.7 229.3,291.0 229.8,292.1 230.3,293.2 230.8,294.3 231.3,295.2 231.8,296.1 232.3,296.9 232.8,297.6 233.3,298.2 233.8,298.7 234.3,299.1 234.8,299.4 235.3,299.6 235.8,299.8 236.3,299.8 236.8,299.7 237.3,299.6 237.8,299.3 238.3,299.0 238.8,298.6 239.3,298.1 239.8,297.5 240.3,296.9 240.8,296.2 241.3,295.4 241.8,294.6 242.3,293.7 242.8,292.7 243.3,291.7 243.8,290.7 244.3,289.6 244.8,288.4 245.3,287.2 245.8,286.0 246.3,284.7 246.8,283.4 247.3,282.1 247.8,280.7 248.3,279.3 248.8,277.9 249.3,276.5 249.8,275.1 250.3,273.6 250.8,272.2 251.3,270.7 251.8,269.3 252.3,267.8 252.8,266.4 253.3,264.9 253.8,263.5 254.3,262.1 254.8,260.7 255.3,259.3 255.8,258.0 256.3,256.6 256.8,255.4 257.3,254.1 257.8,252.9 258.3,251.7 258.8,250.5 259.3,249.5 259.8,248.4 260.3,247.4 260.8,246.5 261.3,245.6 261.8,244.8 262.3,244.1 262.8,243.4 263.3,242.8 263.8,242.2 264.3,241.8 264.8,241.4 265.3,241.1 265.8,241.0 266.3,240.8 266.5,240.8" fill="none" stroke="#B0403A" stroke-width="4.3" stroke-dasharray="4.3 4.2" stroke-linejoin="miter"/>
</g>
<clipPath id="cR"><rect x="366" y="42" width="278" height="415"/></clipPath>
<g clip-path="url(#cR)">
<polygon points="367.5,303.5 368.0,304.6 368.5,305.6 369.0,306.6 369.5,307.5 370.0,308.3 370.5,309.1 371.0,309.8 371.5,310.4 372.0,310.9 372.5,311.4 373.0,311.9 373.5,312.2 374.0,312.5 374.5,312.8 375.0,313.0 375.5,313.1 376.0,313.2 376.5,313.3 377.0,313.2 377.5,313.2 378.0,313.1 378.5,312.9 379.0,312.7 379.5,312.5 380.0,312.2 380.5,311.9 381.0,311.5 381.5,311.1 382.0,310.6 382.5,310.2 383.0,309.7 383.5,309.1 384.0,308.6 384.5,308.0 385.0,307.3 385.5,306.7 386.0,306.0 386.5,305.3 387.0,304.6 387.5,303.8 388.0,303.1 388.5,302.3 389.0,301.5 389.5,300.7 390.0,299.8 390.5,299.0 391.0,298.1 391.5,297.3 392.0,296.4 392.5,295.5 393.0,294.7 393.5,293.8 394.0,292.9 394.5,292.0 395.0,291.1 395.5,290.3 396.0,289.4 396.5,288.5 397.0,287.6 397.5,286.8 398.0,285.9 398.5,285.1 399.0,284.3 399.5,283.5 400.0,282.7 400.5,281.9 401.0,281.2 401.5,280.5 402.0,279.8 402.5,279.1 403.0,278.5 403.5,277.9 404.0,277.3 404.5,276.7 405.0,276.2 405.5,275.8 406.0,275.3 406.5,274.9 407.0,274.6 407.5,274.3 408.0,274.1 408.5,273.9 409.0,273.7 409.5,273.6 410.0,273.6 410.5,273.6 411.0,273.7 411.5,273.8 412.0,274.0 412.5,274.2 413.0,274.5 413.5,274.9 414.0,275.3 414.5,275.8 415.0,276.3 415.5,276.9 416.0,277.5 416.5,278.2 417.0,279.0 417.5,279.8 418.0,280.6 418.5,281.5 419.0,282.5 419.5,283.5 420.0,284.5 420.5,285.6 421.0,286.7 421.5,287.9 422.0,289.1 422.5,290.4 423.0,291.7 423.5,293.1 424.0,294.5 424.5,295.9 425.0,297.4 425.5,298.8 426.0,300.4 426.5,301.9 427.0,303.4 427.5,305.0 428.0,306.6 428.5,308.3 429.0,309.9 429.5,311.5 430.0,313.2 430.5,314.9 431.0,316.5 431.5,318.2 432.0,319.9 432.5,321.6 433.0,323.2 433.5,324.9 434.0,326.6 434.5,328.2 435.0,329.9 435.5,331.5 436.0,333.2 436.5,334.8 437.0,336.3 437.5,337.9 438.0,339.5 438.5,341.0 439.0,342.5 439.5,343.9 440.0,345.4 440.5,346.8 441.0,348.1 441.5,349.4 442.0,350.7 442.5,352.0 443.0,353.2 443.5,354.3 444.0,355.4 444.5,356.5 445.0,357.5 445.5,358.4 446.0,359.3 446.5,360.2 447.0,360.9 447.5,361.7 448.0,362.3 448.5,362.9 449.0,363.5 449.5,363.9 450.0,364.4 450.5,364.8 451.0,365.1 451.5,365.3 452.0,365.5 452.5,365.7 453.0,365.8 453.5,365.9 454.0,365.9 454.5,365.8 455.0,365.7 455.5,365.5 456.0,365.3 456.5,365.1 457.0,364.8 457.5,364.4 458.0,364.0 458.5,363.6 459.0,363.1 459.5,362.5 460.0,362.0 460.5,361.3 461.0,360.6 461.5,359.9 462.0,359.2 462.5,358.3 463.0,357.5 463.5,356.6 464.0,355.7 464.5,354.7 465.0,353.7 465.5,352.6 466.0,351.5 466.5,350.4 467.0,349.2 467.5,348.0 468.0,346.8 468.5,345.5 469.0,344.3 469.5,343.0 470.0,341.6 470.5,340.3 471.0,338.9 471.5,337.5 472.0,336.1 472.5,334.7 473.0,333.3 473.5,331.8 474.0,330.4 474.5,328.9 475.0,327.4 475.5,325.9 476.0,324.5 476.5,323.0 477.0,321.5 477.5,320.0 478.0,318.6 478.5,317.1 479.0,315.6 479.5,314.2 480.0,312.7 480.5,311.3 481.0,309.9 481.5,308.5 482.0,307.1 482.5,305.7 483.0,304.4 483.5,303.1 484.0,301.8 484.5,300.5 485.0,299.2 485.5,298.0 486.0,296.8 486.5,295.6 487.0,294.5 487.5,293.4 488.0,292.3 488.5,291.2 489.0,290.2 489.5,289.3 490.0,288.3 490.5,287.4 491.0,286.6 491.5,285.8 492.0,285.0 492.5,284.2 493.0,283.5 493.5,282.8 494.0,282.1 494.5,281.5 495.0,280.9 495.5,280.3 496.0,279.8 496.5,279.3 497.0,278.8 497.5,278.3 498.0,277.9 498.5,277.5 499.0,277.1 499.5,276.8 500.0,276.4 500.5,276.1 501.0,275.9 501.5,275.6 502.0,275.4 502.5,275.2 503.0,275.0 503.5,274.8 504.0,274.7 504.5,274.6 505.0,274.5 505.5,274.4 506.0,274.3 506.5,274.3 507.0,274.2 507.5,274.2 508.0,274.2 508.5,274.2 509.0,274.3 509.5,274.3 510.0,274.4 510.5,274.5 511.0,274.6 511.5,274.7 512.0,274.8 512.5,274.9 513.0,275.0 513.5,275.2 514.0,275.3 514.5,275.5 515.0,275.7 515.5,275.9 516.0,276.1 516.5,276.3 517.0,276.5 517.5,276.7 518.0,276.9 518.5,277.1 519.0,277.4 519.5,277.6 520.0,277.9 520.5,278.1 521.0,278.4 521.5,278.7 522.0,278.9 522.5,279.2 523.0,279.5 523.5,279.8 524.0,280.1 524.5,280.4 525.0,280.7 525.5,281.0 526.0,281.3 526.5,281.6 527.0,281.9 527.5,282.2 528.0,282.5 528.5,282.8 529.0,283.1 529.5,283.4 530.0,283.7 530.5,284.0 531.0,284.3 531.5,284.6 532.0,284.9 532.5,285.1 533.0,285.4 533.5,285.7 534.0,286.0 534.5,286.3 535.0,286.6 535.5,286.8 536.0,287.1 536.5,287.3 537.0,287.6 537.5,287.8 538.0,288.1 538.5,288.3 539.0,288.5 539.5,288.8 540.0,289.0 540.5,289.2 541.0,289.4 541.5,289.6 542.0,289.7 542.5,289.9 543.0,290.1 543.5,290.2 544.0,290.4 544.5,290.5 545.0,290.6 545.5,290.7 546.0,290.8 546.5,290.9 547.0,291.0 547.5,291.0 548.0,291.1 548.5,291.1 549.0,291.1 549.5,291.1 550.0,291.1 550.5,291.1 551.0,291.0 551.5,291.0 552.0,290.9 552.5,290.8 553.0,290.7 553.5,290.6 554.0,290.4 554.5,290.3 555.0,290.1 555.5,289.9 556.0,289.7 556.5,289.4 557.0,289.2 557.5,288.9 558.0,288.6 558.5,288.3 559.0,288.0 559.5,287.6 560.0,287.2 560.5,286.9 561.0,286.4 561.5,286.0 562.0,285.5 562.5,285.0 563.0,284.5 563.5,284.0 564.0,283.4 564.5,282.9 565.0,282.2 565.5,281.6 566.0,281.0 566.5,280.3 567.0,279.6 567.5,278.8 568.0,278.1 568.5,277.3 569.0,276.4 569.5,275.6 570.0,274.7 570.5,273.8 571.0,272.9 571.5,271.9 572.0,270.9 572.5,269.9 573.0,268.9 573.5,267.8 574.0,266.7 574.5,265.5 575.0,264.3 575.5,263.1 576.0,261.9 576.5,260.7 577.0,259.4 577.5,258.1 578.0,256.8 578.5,255.4 579.0,254.1 579.5,252.7 580.0,251.3 580.5,249.9 581.0,248.5 581.5,247.1 582.0,245.7 582.5,244.2 583.0,242.8 583.5,241.3 584.0,239.9 584.5,238.4 585.0,237.0 585.5,235.5 586.0,234.1 586.5,232.7 587.0,231.2 587.5,229.8 588.0,228.4 588.5,227.0 589.0,225.6 589.5,224.2 590.0,222.8 590.5,221.4 591.0,220.1 591.5,218.8 592.0,217.5 592.5,216.2 593.0,214.9 593.5,213.7 594.0,212.5 594.5,211.3 595.0,210.2 595.5,209.1 596.0,208.0 596.5,206.9 597.0,205.9 597.5,204.9 598.0,204.0 598.5,203.1 599.0,202.2 599.5,201.4 600.0,200.6 600.5,199.9 601.0,199.2 601.5,198.5 602.0,197.9 602.5,197.3 603.0,196.8 603.5,196.4 604.0,195.9 604.5,195.6 605.0,195.2 605.5,195.0 606.0,194.7 606.5,194.6 607.0,194.4 607.5,194.4 608.0,194.4 608.5,194.4 609.0,194.5 609.5,194.6 610.0,194.8 610.5,195.1 611.0,195.4 611.5,195.8 612.0,196.2 612.5,196.7 613.0,197.2 613.5,197.8 614.0,198.5 614.5,199.2 615.0,200.0 615.5,200.9 616.0,201.8 616.5,202.8 617.0,203.8 617.5,204.9 618.0,206.1 618.5,207.3 619.0,208.5 619.5,209.9 620.0,211.2 620.5,212.6 621.0,214.1 621.5,215.6 622.0,217.2 622.5,218.8 623.0,220.4 623.5,222.1 624.0,223.8 624.5,225.5 625.0,227.3 625.5,229.1 626.0,230.9 626.5,232.8 627.0,234.6 627.5,236.5 628.0,238.5 628.5,240.4 629.0,242.4 629.5,244.3 630.0,246.3 630.5,248.3 631.0,250.3 631.5,252.3 632.0,254.3 632.5,256.3 633.0,258.3 633.5,260.3 634.0,262.3 634.5,264.3 635.0,266.2 635.5,268.2 636.0,270.1 636.5,272.1 637.0,274.0 637.5,275.8 638.0,277.7 638.5,279.5 639.0,281.3 639.5,283.1 640.0,284.8 640.5,286.5 641.0,288.2 641.5,289.8 642.0,291.4 642.5,292.9 643.0,294.4 643.0,361.4 642.5,359.9 642.0,358.4 641.5,356.8 641.0,355.2 640.5,353.5 640.0,351.8 639.5,350.1 639.0,348.3 638.5,346.5 638.0,344.7 637.5,342.8 637.0,341.0 636.5,339.1 636.0,337.1 635.5,335.2 635.0,333.2 634.5,331.3 634.0,329.3 633.5,327.3 633.0,325.3 632.5,323.3 632.0,321.3 631.5,319.3 631.0,317.3 630.5,315.3 630.0,313.3 629.5,311.3 629.0,309.4 628.5,307.4 628.0,305.5 627.5,303.5 627.0,301.6 626.5,299.8 626.0,297.9 625.5,296.1 625.0,294.3 624.5,292.5 624.0,290.8 623.5,289.1 623.0,287.4 622.5,285.8 622.0,284.2 621.5,282.6 621.0,281.1 620.5,279.6 620.0,278.2 619.5,276.9 619.0,275.5 618.5,274.3 618.0,273.1 617.5,271.9 617.0,270.8 616.5,269.8 616.0,268.8 615.5,267.9 615.0,267.0 614.5,266.2 614.0,265.5 613.5,264.8 613.0,264.2 612.5,263.7 612.0,263.2 611.5,262.8 611.0,262.4 610.5,262.1 610.0,261.8 609.5,261.6 609.0,261.5 608.5,261.4 608.0,261.4 607.5,261.4 607.0,261.4 606.5,261.6 606.0,261.7 605.5,262.0 605.0,262.2 604.5,262.6 604.0,262.9 603.5,263.4 603.0,263.8 602.5,264.3 602.0,264.9 601.5,265.5 601.0,266.2 600.5,266.9 600.0,267.6 599.5,268.4 599.0,269.2 598.5,270.1 598.0,271.0 597.5,271.9 597.0,272.9 596.5,273.9 596.0,275.0 595.5,276.1 595.0,277.2 594.5,278.3 594.0,279.5 593.5,280.7 593.0,281.9 592.5,283.2 592.0,284.5 591.5,285.8 591.0,287.1 590.5,288.4 590.0,289.8 589.5,291.2 589.0,292.6 588.5,294.0 588.0,295.4 587.5,296.8 587.0,298.2 586.5,299.7 586.0,301.1 585.5,302.5 585.0,304.0 584.5,305.4 584.0,306.9 583.5,308.3 583.0,309.8 582.5,311.2 582.0,312.7 581.5,314.1 581.0,315.5 580.5,316.9 580.0,318.3 579.5,319.7 579.0,321.1 578.5,322.4 578.0,323.8 577.5,325.1 577.0,326.4 576.5,327.7 576.0,328.9 575.5,330.1 575.0,331.3 574.5,332.5 574.0,333.7 573.5,334.8 573.0,335.9 572.5,336.9 572.0,337.9 571.5,338.9 571.0,339.9 570.5,340.8 570.0,341.7 569.5,342.6 569.0,343.4 568.5,344.3 568.0,345.1 567.5,345.8 567.0,346.6 566.5,347.3 566.0,348.0 565.5,348.6 565.0,349.2 564.5,349.9 564.0,350.4 563.5,351.0 563.0,351.5 562.5,352.0 562.0,352.5 561.5,353.0 561.0,353.4 560.5,353.9 560.0,354.2 559.5,354.6 559.0,355.0 558.5,355.3 558.0,355.6 557.5,355.9 557.0,356.2 556.5,356.4 556.0,356.7 555.5,356.9 555.0,357.1 554.5,357.3 554.0,357.4 553.5,357.6 553.0,357.7 552.5,357.8 552.0,357.9 551.5,358.0 551.0,358.0 550.5,358.1 550.0,358.1 549.5,358.1 549.0,358.1 548.5,358.1 548.0,358.1 547.5,358.0 547.0,358.0 546.5,357.9 546.0,357.8 545.5,357.7 545.0,357.6 544.5,357.5 544.0,357.4 543.5,357.2 543.0,357.1 542.5,356.9 542.0,356.7 541.5,356.6 541.0,356.4 540.5,356.2 540.0,356.0 539.5,355.8 539.0,355.5 538.5,355.3 538.0,355.1 537.5,354.8 537.0,354.6 536.5,354.3 536.0,354.1 535.5,353.8 535.0,353.6 534.5,353.3 534.0,353.0 533.5,352.7 533.0,352.4 532.5,352.1 532.0,351.9 531.5,351.6 531.0,351.3 530.5,351.0 530.0,350.7 529.5,350.4 529.0,350.1 528.5,349.8 528.0,349.5 527.5,349.2 527.0,348.9 526.5,348.6 526.0,348.3 525.5,348.0 525.0,347.7 524.5,347.4 524.0,347.1 523.5,346.8 523.0,346.5 522.5,346.2 522.0,345.9 521.5,345.7 521.0,345.4 520.5,345.1 520.0,344.9 519.5,344.6 519.0,344.4 518.5,344.1 518.0,343.9 517.5,343.7 517.0,343.5 516.5,343.3 516.0,343.1 515.5,342.9 515.0,342.7 514.5,342.5 514.0,342.3 513.5,342.2 513.0,342.0 512.5,341.9 512.0,341.8 511.5,341.7 511.0,341.6 510.5,341.5 510.0,341.4 509.5,341.3 509.0,341.3 508.5,341.2 508.0,341.2 507.5,341.2 507.0,341.2 506.5,341.3 506.0,341.3 505.5,341.4 505.0,341.5 504.5,341.6 504.0,341.7 503.5,341.8 503.0,342.0 502.5,342.2 502.0,342.4 501.5,342.6 501.0,342.9 500.5,343.1 500.0,343.4 499.5,343.8 499.0,344.1 498.5,344.5 498.0,344.9 497.5,345.3 497.0,345.8 496.5,346.3 496.0,346.8 495.5,347.3 495.0,347.9 494.5,348.5 494.0,349.1 493.5,349.8 493.0,350.5 492.5,351.2 492.0,352.0 491.5,352.8 491.0,353.6 490.5,354.4 490.0,355.3 489.5,356.3 489.0,357.2 488.5,358.2 488.0,359.3 487.5,360.4 487.0,361.5 486.5,362.6 486.0,363.8 485.5,365.0 485.0,366.2 484.5,367.5 484.0,368.8 483.5,370.1 483.0,371.4 482.5,372.7 482.0,374.1 481.5,375.5 481.0,376.9 480.5,378.3 480.0,379.7 479.5,381.2 479.0,382.6 478.5,384.1 478.0,385.6 477.5,387.0 477.0,388.5 476.5,390.0 476.0,391.5 475.5,392.9 475.0,394.4 474.5,395.9 474.0,397.4 473.5,398.8 473.0,400.3 472.5,401.7 472.0,403.1 471.5,404.5 471.0,405.9 470.5,407.3 470.0,408.6 469.5,410.0 469.0,411.3 468.5,412.5 468.0,413.8 467.5,415.0 467.0,416.2 466.5,417.4 466.0,418.5 465.5,419.6 465.0,420.7 464.5,421.7 464.0,422.7 463.5,423.6 463.0,424.5 462.5,425.3 462.0,426.2 461.5,426.9 461.0,427.6 460.5,428.3 460.0,429.0 459.5,429.5 459.0,430.1 458.5,430.6 458.0,431.0 457.5,431.4 457.0,431.8 456.5,432.1 456.0,432.3 455.5,432.5 455.0,432.7 454.5,432.8 454.0,432.9 453.5,432.9 453.0,432.8 452.5,432.7 452.0,432.5 451.5,432.3 451.0,432.1 450.5,431.8 450.0,431.4 449.5,430.9 449.0,430.5 448.5,429.9 448.0,429.3 447.5,428.7 447.0,427.9 446.5,427.2 446.0,426.3 445.5,425.4 445.0,424.5 444.5,423.5 444.0,422.4 443.5,421.3 443.0,420.2 442.5,419.0 442.0,417.7 441.5,416.4 441.0,415.1 440.5,413.8 440.0,412.4 439.5,410.9 439.0,409.5 438.5,408.0 438.0,406.5 437.5,404.9 437.0,403.3 436.5,401.8 436.0,400.2 435.5,398.5 435.0,396.9 434.5,395.2 434.0,393.6 433.5,391.9 433.0,390.2 432.5,388.6 432.0,386.9 431.5,385.2 431.0,383.5 430.5,381.9 430.0,380.2 429.5,378.5 429.0,376.9 428.5,375.3 428.0,373.6 427.5,372.0 427.0,370.4 426.5,368.9 426.0,367.4 425.5,365.8 425.0,364.4 424.5,362.9 424.0,361.5 423.5,360.1 423.0,358.7 422.5,357.4 422.0,356.1 421.5,354.9 421.0,353.7 420.5,352.6 420.0,351.5 419.5,350.5 419.0,349.5 418.5,348.5 418.0,347.6 417.5,346.8 417.0,346.0 416.5,345.2 416.0,344.5 415.5,343.9 415.0,343.3 414.5,342.8 414.0,342.3 413.5,341.9 413.0,341.5 412.5,341.2 412.0,341.0 411.5,340.8 411.0,340.7 410.5,340.6 410.0,340.6 409.5,340.6 409.0,340.7 408.5,340.9 408.0,341.1 407.5,341.3 407.0,341.6 406.5,341.9 406.0,342.3 405.5,342.8 405.0,343.2 404.5,343.7 404.0,344.3 403.5,344.9 403.0,345.5 402.5,346.1 402.0,346.8 401.5,347.5 401.0,348.2 400.5,348.9 400.0,349.7 399.5,350.5 399.0,351.3 398.5,352.1 398.0,352.9 397.5,353.8 397.0,354.6 396.5,355.5 396.0,356.4 395.5,357.3 395.0,358.1 394.5,359.0 394.0,359.9 393.5,360.8 393.0,361.7 392.5,362.5 392.0,363.4 391.5,364.3 391.0,365.1 390.5,366.0 390.0,366.8 389.5,367.7 389.0,368.5 388.5,369.3 388.0,370.1 387.5,370.8 387.0,371.6 386.5,372.3 386.0,373.0 385.5,373.7 385.0,374.3 384.5,375.0 384.0,375.6 383.5,376.1 383.0,376.7 382.5,377.2 382.0,377.6 381.5,378.1 381.0,378.5 380.5,378.9 380.0,379.2 379.5,379.5 379.0,379.7 378.5,379.9 378.0,380.1 377.5,380.2 377.0,380.2 376.5,380.3 376.0,380.2 375.5,380.1 375.0,380.0 374.5,379.8 374.0,379.5 373.5,379.2 373.0,378.9 372.5,378.4 372.0,377.9 371.5,377.4 371.0,376.8 370.5,376.1 370.0,375.3 369.5,374.5 369.0,373.6 368.5,372.6 368.0,371.6 367.5,370.5" fill="#6F7EB3" fill-opacity="0.3"/>
<polyline points="367.5,337.0 368.0,338.1 368.5,339.1 369.0,340.1 369.5,341.0 370.0,341.8 370.5,342.6 371.0,343.3 371.5,343.9 372.0,344.4 372.5,344.9 373.0,345.4 373.5,345.7 374.0,346.0 374.5,346.3 375.0,346.5 375.5,346.6 376.0,346.7 376.5,346.8 377.0,346.7 377.5,346.7 378.0,346.6 378.5,346.4 379.0,346.2 379.5,346.0 380.0,345.7 380.5,345.4 381.0,345.0 381.5,344.6 382.0,344.1 382.5,343.7 383.0,343.2 383.5,342.6 384.0,342.1 384.5,341.5 385.0,340.8 385.5,340.2 386.0,339.5 386.5,338.8 387.0,338.1 387.5,337.3 388.0,336.6 388.5,335.8 389.0,335.0 389.5,334.2 390.0,333.3 390.5,332.5 391.0,331.6 391.5,330.8 392.0,329.9 392.5,329.0 393.0,328.2 393.5,327.3 394.0,326.4 394.5,325.5 395.0,324.6 395.5,323.8 396.0,322.9 396.5,322.0 397.0,321.1 397.5,320.3 398.0,319.4 398.5,318.6 399.0,317.8 399.5,317.0 400.0,316.2 400.5,315.4 401.0,314.7 401.5,314.0 402.0,313.3 402.5,312.6 403.0,312.0 403.5,311.4 404.0,310.8 404.5,310.2 405.0,309.7 405.5,309.3 406.0,308.8 406.5,308.4 407.0,308.1 407.5,307.8 408.0,307.6 408.5,307.4 409.0,307.2 409.5,307.1 410.0,307.1 410.5,307.1 411.0,307.2 411.5,307.3 412.0,307.5 412.5,307.7 413.0,308.0 413.5,308.4 414.0,308.8 414.5,309.3 415.0,309.8 415.5,310.4 416.0,311.0 416.5,311.7 417.0,312.5 417.5,313.3 418.0,314.1 418.5,315.0 419.0,316.0 419.5,317.0 420.0,318.0 420.5,319.1 421.0,320.2 421.5,321.4 422.0,322.6 422.5,323.9 423.0,325.2 423.5,326.6 424.0,328.0 424.5,329.4 425.0,330.9 425.5,332.3 426.0,333.9 426.5,335.4 427.0,336.9 427.5,338.5 428.0,340.1 428.5,341.8 429.0,343.4 429.5,345.0 430.0,346.7 430.5,348.4 431.0,350.0 431.5,351.7 432.0,353.4 432.5,355.1 433.0,356.7 433.5,358.4 434.0,360.1 434.5,361.7 435.0,363.4 435.5,365.0 436.0,366.7 436.5,368.3 437.0,369.8 437.5,371.4 438.0,373.0 438.5,374.5 439.0,376.0 439.5,377.4 440.0,378.9 440.5,380.3 441.0,381.6 441.5,382.9 442.0,384.2 442.5,385.5 443.0,386.7 443.5,387.8 444.0,388.9 444.5,390.0 445.0,391.0 445.5,391.9 446.0,392.8 446.5,393.7 447.0,394.4 447.5,395.2 448.0,395.8 448.5,396.4 449.0,397.0 449.5,397.4 450.0,397.9 450.5,398.3 451.0,398.6 451.5,398.8 452.0,399.0 452.5,399.2 453.0,399.3 453.5,399.4 454.0,399.4 454.5,399.3 455.0,399.2 455.5,399.0 456.0,398.8 456.5,398.6 457.0,398.3 457.5,397.9 458.0,397.5 458.5,397.1 459.0,396.6 459.5,396.0 460.0,395.5 460.5,394.8 461.0,394.1 461.5,393.4 462.0,392.7 462.5,391.8 463.0,391.0 463.5,390.1 464.0,389.2 464.5,388.2 465.0,387.2 465.5,386.1 466.0,385.0 466.5,383.9 467.0,382.7 467.5,381.5 468.0,380.3 468.5,379.0 469.0,377.8 469.5,376.5 470.0,375.1 470.5,373.8 471.0,372.4 471.5,371.0 472.0,369.6 472.5,368.2 473.0,366.8 473.5,365.3 474.0,363.9 474.5,362.4 475.0,360.9 475.5,359.4 476.0,358.0 476.5,356.5 477.0,355.0 477.5,353.5 478.0,352.1 478.5,350.6 479.0,349.1 479.5,347.7 480.0,346.2 480.5,344.8 481.0,343.4 481.5,342.0 482.0,340.6 482.5,339.2 483.0,337.9 483.5,336.6 484.0,335.3 484.5,334.0 485.0,332.7 485.5,331.5 486.0,330.3 486.5,329.1 487.0,328.0 487.5,326.9 488.0,325.8 488.5,324.7 489.0,323.7 489.5,322.8 490.0,321.8 490.5,320.9 491.0,320.1 491.5,319.3 492.0,318.5 492.5,317.7 493.0,317.0 493.5,316.3 494.0,315.6 494.5,315.0 495.0,314.4 495.5,313.8 496.0,313.3 496.5,312.8 497.0,312.3 497.5,311.8 498.0,311.4 498.5,311.0 499.0,310.6 499.5,310.3 500.0,309.9 500.5,309.6 501.0,309.4 501.5,309.1 502.0,308.9 502.5,308.7 503.0,308.5 503.5,308.3 504.0,308.2 504.5,308.1 505.0,308.0 505.5,307.9 506.0,307.8 506.5,307.8 507.0,307.7 507.5,307.7 508.0,307.7 508.5,307.7 509.0,307.8 509.5,307.8 510.0,307.9 510.5,308.0 511.0,308.1 511.5,308.2 512.0,308.3 512.5,308.4 513.0,308.5 513.5,308.7 514.0,308.8 514.5,309.0 515.0,309.2 515.5,309.4 516.0,309.6 516.5,309.8 517.0,310.0 517.5,310.2 518.0,310.4 518.5,310.6 519.0,310.9 519.5,311.1 520.0,311.4 520.5,311.6 521.0,311.9 521.5,312.2 522.0,312.4 522.5,312.7 523.0,313.0 523.5,313.3 524.0,313.6 524.5,313.9 525.0,314.2 525.5,314.5 526.0,314.8 526.5,315.1 527.0,315.4 527.5,315.7 528.0,316.0 528.5,316.3 529.0,316.6 529.5,316.9 530.0,317.2 530.5,317.5 531.0,317.8 531.5,318.1 532.0,318.4 532.5,318.6 533.0,318.9 533.5,319.2 534.0,319.5 534.5,319.8 535.0,320.1 535.5,320.3 536.0,320.6 536.5,320.8 537.0,321.1 537.5,321.3 538.0,321.6 538.5,321.8 539.0,322.0 539.5,322.3 540.0,322.5 540.5,322.7 541.0,322.9 541.5,323.1 542.0,323.2 542.5,323.4 543.0,323.6 543.5,323.7 544.0,323.9 544.5,324.0 545.0,324.1 545.5,324.2 546.0,324.3 546.5,324.4 547.0,324.5 547.5,324.5 548.0,324.6 548.5,324.6 549.0,324.6 549.5,324.6 550.0,324.6 550.5,324.6 551.0,324.5 551.5,324.5 552.0,324.4 552.5,324.3 553.0,324.2 553.5,324.1 554.0,323.9 554.5,323.8 555.0,323.6 555.5,323.4 556.0,323.2 556.5,322.9 557.0,322.7 557.5,322.4 558.0,322.1 558.5,321.8 559.0,321.5 559.5,321.1 560.0,320.7 560.5,320.4 561.0,319.9 561.5,319.5 562.0,319.0 562.5,318.5 563.0,318.0 563.5,317.5 564.0,316.9 564.5,316.4 565.0,315.7 565.5,315.1 566.0,314.5 566.5,313.8 567.0,313.1 567.5,312.3 568.0,311.6 568.5,310.8 569.0,309.9 569.5,309.1 570.0,308.2 570.5,307.3 571.0,306.4 571.5,305.4 572.0,304.4 572.5,303.4 573.0,302.4 573.5,301.3 574.0,300.2 574.5,299.0 575.0,297.8 575.5,296.6 576.0,295.4 576.5,294.2 577.0,292.9 577.5,291.6 578.0,290.3 578.5,288.9 579.0,287.6 579.5,286.2 580.0,284.8 580.5,283.4 581.0,282.0 581.5,280.6 582.0,279.2 582.5,277.7 583.0,276.3 583.5,274.8 584.0,273.4 584.5,271.9 585.0,270.5 585.5,269.0 586.0,267.6 586.5,266.2 587.0,264.7 587.5,263.3 588.0,261.9 588.5,260.5 589.0,259.1 589.5,257.7 590.0,256.3 590.5,254.9 591.0,253.6 591.5,252.3 592.0,251.0 592.5,249.7 593.0,248.4 593.5,247.2 594.0,246.0 594.5,244.8 595.0,243.7 595.5,242.6 596.0,241.5 596.5,240.4 597.0,239.4 597.5,238.4 598.0,237.5 598.5,236.6 599.0,235.7 599.5,234.9 600.0,234.1 600.5,233.4 601.0,232.7 601.5,232.0 602.0,231.4 602.5,230.8 603.0,230.3 603.5,229.9 604.0,229.4 604.5,229.1 605.0,228.7 605.5,228.5 606.0,228.2 606.5,228.1 607.0,227.9 607.5,227.9 608.0,227.9 608.5,227.9 609.0,228.0 609.5,228.1 610.0,228.3 610.5,228.6 611.0,228.9 611.5,229.3 612.0,229.7 612.5,230.2 613.0,230.7 613.5,231.3 614.0,232.0 614.5,232.7 615.0,233.5 615.5,234.4 616.0,235.3 616.5,236.3 617.0,237.3 617.5,238.4 618.0,239.6 618.5,240.8 619.0,242.0 619.5,243.4 620.0,244.7 620.5,246.1 621.0,247.6 621.5,249.1 622.0,250.7 622.5,252.3 623.0,253.9 623.5,255.6 624.0,257.3 624.5,259.0 625.0,260.8 625.5,262.6 626.0,264.4 626.5,266.3 627.0,268.1 627.5,270.0 628.0,272.0 628.5,273.9 629.0,275.9 629.5,277.8 630.0,279.8 630.5,281.8 631.0,283.8 631.5,285.8 632.0,287.8 632.5,289.8 633.0,291.8 633.5,293.8 634.0,295.8 634.5,297.8 635.0,299.7 635.5,301.7 636.0,303.6 636.5,305.6 637.0,307.5 637.5,309.3 638.0,311.2 638.5,313.0 639.0,314.8 639.5,316.6 640.0,318.3 640.5,320.0 641.0,321.7 641.5,323.3 642.0,324.9 642.5,326.4 643.0,327.9" fill="none" stroke="#4A5DAC" stroke-width="4.3" stroke-dasharray="4.3 4.2" stroke-linejoin="miter"/>
<polygon points="367.5,217.5 368.0,217.0 368.5,216.3 369.0,215.5 369.5,214.7 370.0,213.7 370.5,212.6 371.0,211.5 371.5,210.3 372.0,209.0 372.5,207.7 373.0,206.2 373.5,204.8 374.0,203.3 374.5,201.7 375.0,200.1 375.5,198.4 376.0,196.8 376.5,195.1 377.0,193.3 377.5,191.6 378.0,189.8 378.5,188.1 379.0,186.3 379.5,184.6 380.0,182.8 380.5,181.1 381.0,179.4 381.5,177.7 382.0,176.1 382.5,174.5 383.0,172.9 383.5,171.3 384.0,169.8 384.5,168.4 385.0,167.0 385.5,165.6 386.0,164.2 386.5,163.0 387.0,161.7 387.5,160.5 388.0,159.4 388.5,158.3 389.0,157.2 389.5,156.2 390.0,155.3 390.5,154.4 391.0,153.6 391.5,152.8 392.0,152.1 392.5,151.4 393.0,150.8 393.5,150.3 394.0,149.8 394.5,149.4 395.0,149.1 395.5,148.8 396.0,148.6 396.5,148.5 397.0,148.4 397.5,148.4 398.0,148.5 398.5,148.6 399.0,148.9 399.5,149.2 400.0,149.5 400.5,150.0 401.0,150.5 401.5,151.2 402.0,151.9 402.5,152.6 403.0,153.5 403.5,154.5 404.0,155.5 404.5,156.6 405.0,157.8 405.5,159.1 406.0,160.5 406.5,162.0 407.0,163.6 407.5,165.3 408.0,167.1 408.5,168.9 409.0,170.8 409.5,172.8 410.0,174.9 410.5,177.0 411.0,179.1 411.5,181.3 412.0,183.5 412.5,185.8 413.0,188.0 413.5,190.3 414.0,192.6 414.5,194.9 415.0,197.2 415.5,199.4 416.0,201.7 416.5,203.9 417.0,206.0 417.5,208.2 418.0,210.4 418.5,212.5 419.0,214.6 419.5,216.8 420.0,218.9 420.5,221.0 421.0,223.2 421.5,225.3 422.0,227.5 422.5,229.7 423.0,231.9 423.5,234.1 424.0,236.4 424.5,238.7 425.0,240.9 425.5,243.2 426.0,245.5 426.5,247.8 427.0,250.1 427.5,252.4 428.0,254.7 428.5,256.9 429.0,259.1 429.5,261.3 430.0,263.5 430.5,265.6 431.0,267.7 431.5,269.8 432.0,271.8 432.5,273.8 433.0,275.7 433.5,277.5 434.0,279.4 434.5,281.1 435.0,282.9 435.5,284.6 436.0,286.2 436.5,287.8 437.0,289.3 437.5,290.9 438.0,292.3 438.5,293.8 439.0,295.1 439.5,296.5 440.0,297.8 440.5,299.1 441.0,300.3 441.5,301.5 442.0,302.6 442.5,303.7 443.0,304.8 443.5,305.8 444.0,306.8 444.5,307.8 445.0,308.7 445.5,309.6 446.0,310.4 446.5,311.2 447.0,312.0 447.5,312.7 448.0,313.4 448.5,314.1 449.0,314.7 449.5,315.3 450.0,315.9 450.5,316.4 451.0,317.0 451.5,317.4 452.0,317.9 452.5,318.3 453.0,318.7 453.5,319.0 454.0,319.3 454.5,319.6 455.0,319.9 455.5,320.1 456.0,320.3 456.5,320.4 457.0,320.6 457.5,320.6 458.0,320.7 458.5,320.7 459.0,320.7 459.5,320.7 460.0,320.6 460.5,320.6 461.0,320.4 461.5,320.3 462.0,320.1 462.5,319.9 463.0,319.6 463.5,319.3 464.0,319.0 464.5,318.6 465.0,318.3 465.5,317.8 466.0,317.4 466.5,316.9 467.0,316.4 467.5,315.9 468.0,315.3 468.5,314.7 469.0,314.1 469.5,313.4 470.0,312.7 470.5,312.0 471.0,311.2 471.5,310.4 472.0,309.6 472.5,308.7 473.0,307.8 473.5,306.9 474.0,305.9 474.5,305.0 475.0,303.9 475.5,302.9 476.0,301.8 476.5,300.7 477.0,299.5 477.5,298.4 478.0,297.1 478.5,295.9 479.0,294.6 479.5,293.3 480.0,292.0 480.5,290.6 481.0,289.2 481.5,287.8 482.0,286.4 482.5,284.9 483.0,283.4 483.5,281.9 484.0,280.4 484.5,278.9 485.0,277.4 485.5,275.8 486.0,274.3 486.5,272.7 487.0,271.2 487.5,269.6 488.0,268.0 488.5,266.5 489.0,264.9 489.5,263.3 490.0,261.8 490.5,260.2 491.0,258.6 491.5,257.0 492.0,255.4 492.5,253.8 493.0,252.2 493.5,250.5 494.0,248.9 494.5,247.2 495.0,245.5 495.5,243.8 496.0,242.1 496.5,240.3 497.0,238.6 497.5,236.8 498.0,235.1 498.5,233.3 499.0,231.5 499.5,229.7 500.0,228.0 500.5,226.2 501.0,224.4 501.5,222.7 502.0,220.9 502.5,219.2 503.0,217.4 503.5,215.7 504.0,214.0 504.5,212.3 505.0,210.7 505.5,209.0 506.0,207.4 506.5,205.8 507.0,204.2 507.5,202.6 508.0,201.1 508.5,199.6 509.0,198.2 509.5,196.8 510.0,195.4 510.5,194.1 511.0,192.8 511.5,191.6 512.0,190.4 512.5,189.3 513.0,188.2 513.5,187.2 514.0,186.3 514.5,185.4 515.0,184.6 515.5,183.9 516.0,183.2 516.5,182.6 517.0,182.1 517.5,181.7 518.0,181.4 518.5,181.1 519.0,180.9 519.5,180.8 520.0,180.8 520.5,180.8 521.0,180.9 521.5,181.1 522.0,181.3 522.5,181.6 523.0,181.9 523.5,182.3 524.0,182.8 524.5,183.3 525.0,183.9 525.5,184.5 526.0,185.2 526.5,186.0 527.0,186.7 527.5,187.6 528.0,188.5 528.5,189.4 529.0,190.3 529.5,191.4 530.0,192.4 530.5,193.5 531.0,194.6 531.5,195.8 532.0,197.0 532.5,198.2 533.0,199.4 533.5,200.7 534.0,202.0 534.5,203.4 535.0,204.8 535.5,206.1 536.0,207.6 536.5,209.0 537.0,210.5 537.5,212.0 538.0,213.5 538.5,215.0 539.0,216.5 539.5,218.1 540.0,219.7 540.5,221.2 541.0,222.8 541.5,224.4 542.0,226.1 542.5,227.7 543.0,229.3 543.5,230.9 544.0,232.6 544.5,234.2 545.0,235.8 545.5,237.4 546.0,239.0 546.5,240.5 547.0,242.0 547.5,243.5 548.0,245.0 548.5,246.4 549.0,247.7 549.5,249.0 550.0,250.3 550.5,251.5 551.0,252.6 551.5,253.6 552.0,254.6 552.5,255.5 553.0,256.4 553.5,257.1 554.0,257.8 554.5,258.4 555.0,259.0 555.5,259.4 556.0,259.8 556.5,260.2 557.0,260.4 557.5,260.6 558.0,260.7 558.5,260.8 559.0,260.7 559.5,260.6 560.0,260.5 560.5,260.2 561.0,259.9 561.5,259.5 562.0,259.1 562.5,258.6 563.0,258.0 563.5,257.4 564.0,256.6 564.5,255.9 565.0,255.0 565.5,254.1 566.0,253.1 566.5,252.1 567.0,250.9 567.5,249.8 568.0,248.5 568.5,247.2 569.0,245.8 569.5,244.4 570.0,242.9 570.5,241.3 571.0,239.7 571.5,238.0 572.0,236.3 572.5,234.5 573.0,232.7 573.5,230.8 574.0,228.9 574.5,226.9 575.0,224.9 575.5,222.9 576.0,220.8 576.5,218.6 577.0,216.5 577.5,214.3 578.0,212.0 578.5,209.7 579.0,207.4 579.5,205.1 580.0,202.8 580.5,200.4 581.0,198.0 581.5,195.6 582.0,193.3 582.5,190.9 583.0,188.6 583.5,186.3 584.0,184.0 584.5,181.7 585.0,179.5 585.5,177.4 586.0,175.3 586.5,173.2 587.0,171.2 587.5,169.3 588.0,167.4 588.5,165.6 589.0,163.8 589.5,162.1 590.0,160.5 590.5,158.9 591.0,157.4 591.5,156.0 592.0,154.7 592.5,153.4 593.0,152.2 593.5,151.1 594.0,150.0 594.5,149.1 595.0,148.2 595.5,147.4 596.0,146.6 596.5,145.9 597.0,145.3 597.5,144.8 598.0,144.3 598.5,144.0 599.0,143.7 599.5,143.4 600.0,143.2 600.5,143.2 601.0,143.1 601.5,143.2 602.0,143.3 602.5,143.5 603.0,143.8 603.5,144.1 604.0,144.5 604.5,145.0 605.0,145.6 605.5,146.2 606.0,146.9 606.5,147.7 607.0,148.5 607.5,149.5 608.0,150.4 608.5,151.5 609.0,152.6 609.5,153.8 610.0,155.1 610.5,156.5 611.0,157.9 611.5,159.3 612.0,160.9 612.5,162.4 613.0,164.1 613.5,165.7 614.0,167.4 614.5,169.2 615.0,171.0 615.5,172.8 616.0,174.6 616.5,176.4 617.0,178.3 617.5,180.2 618.0,182.0 618.5,183.9 619.0,185.8 619.5,187.6 620.0,189.5 620.5,191.3 621.0,193.1 621.5,194.9 622.0,196.7 622.5,198.4 623.0,200.1 623.5,201.8 624.0,203.4 624.5,205.0 625.0,206.5 625.5,207.9 626.0,209.3 626.5,210.7 627.0,212.0 627.5,213.3 628.0,214.5 628.5,215.6 629.0,216.7 629.5,217.8 630.0,218.7 630.5,219.7 631.0,220.6 631.5,221.4 632.0,222.2 632.5,222.9 633.0,223.5 633.5,224.1 634.0,224.7 634.5,225.2 635.0,225.6 635.5,226.0 636.0,226.3 636.5,226.6 637.0,226.8 637.5,226.9 638.0,227.0 638.5,227.0 639.0,227.0 639.5,226.9 640.0,226.7 640.5,226.5 641.0,226.2 641.5,225.8 642.0,225.4 642.5,225.0 643.0,224.4 643.0,291.4 642.5,292.0 642.0,292.4 641.5,292.8 641.0,293.2 640.5,293.5 640.0,293.7 639.5,293.9 639.0,294.0 638.5,294.0 638.0,294.0 637.5,293.9 637.0,293.8 636.5,293.6 636.0,293.3 635.5,293.0 635.0,292.6 634.5,292.2 634.0,291.7 633.5,291.1 633.0,290.5 632.5,289.9 632.0,289.2 631.5,288.4 631.0,287.6 630.5,286.7 630.0,285.7 629.5,284.8 629.0,283.7 628.5,282.6 628.0,281.5 627.5,280.3 627.0,279.0 626.5,277.7 626.0,276.3 625.5,274.9 625.0,273.5 624.5,272.0 624.0,270.4 623.5,268.8 623.0,267.1 622.5,265.4 622.0,263.7 621.5,261.9 621.0,260.1 620.5,258.3 620.0,256.5 619.5,254.6 619.0,252.8 618.5,250.9 618.0,249.0 617.5,247.2 617.0,245.3 616.5,243.4 616.0,241.6 615.5,239.8 615.0,238.0 614.5,236.2 614.0,234.4 613.5,232.7 613.0,231.1 612.5,229.4 612.0,227.9 611.5,226.3 611.0,224.9 610.5,223.5 610.0,222.1 609.5,220.8 609.0,219.6 608.5,218.5 608.0,217.4 607.5,216.5 607.0,215.5 606.5,214.7 606.0,213.9 605.5,213.2 605.0,212.6 604.5,212.0 604.0,211.5 603.5,211.1 603.0,210.8 602.5,210.5 602.0,210.3 601.5,210.2 601.0,210.1 600.5,210.2 600.0,210.2 599.5,210.4 599.0,210.7 598.5,211.0 598.0,211.3 597.5,211.8 597.0,212.3 596.5,212.9 596.0,213.6 595.5,214.4 595.0,215.2 594.5,216.1 594.0,217.0 593.5,218.1 593.0,219.2 592.5,220.4 592.0,221.7 591.5,223.0 591.0,224.4 590.5,225.9 590.0,227.5 589.5,229.1 589.0,230.8 588.5,232.6 588.0,234.4 587.5,236.3 587.0,238.2 586.5,240.2 586.0,242.3 585.5,244.4 585.0,246.5 584.5,248.7 584.0,251.0 583.5,253.3 583.0,255.6 582.5,257.9 582.0,260.3 581.5,262.6 581.0,265.0 580.5,267.4 580.0,269.8 579.5,272.1 579.0,274.4 578.5,276.7 578.0,279.0 577.5,281.3 577.0,283.5 576.5,285.6 576.0,287.8 575.5,289.9 575.0,291.9 574.5,293.9 574.0,295.9 573.5,297.8 573.0,299.7 572.5,301.5 572.0,303.3 571.5,305.0 571.0,306.7 570.5,308.3 570.0,309.9 569.5,311.4 569.0,312.8 568.5,314.2 568.0,315.5 567.5,316.8 567.0,317.9 566.5,319.1 566.0,320.1 565.5,321.1 565.0,322.0 564.5,322.9 564.0,323.6 563.5,324.4 563.0,325.0 562.5,325.6 562.0,326.1 561.5,326.5 561.0,326.9 560.5,327.2 560.0,327.5 559.5,327.6 559.0,327.7 558.5,327.8 558.0,327.7 557.5,327.6 557.0,327.4 556.5,327.2 556.0,326.8 555.5,326.4 555.0,326.0 554.5,325.4 554.0,324.8 553.5,324.1 553.0,323.4 552.5,322.5 552.0,321.6 551.5,320.6 551.0,319.6 550.5,318.5 550.0,317.3 549.5,316.0 549.0,314.7 548.5,313.4 548.0,312.0 547.5,310.5 547.0,309.0 546.5,307.5 546.0,306.0 545.5,304.4 545.0,302.8 544.5,301.2 544.0,299.6 543.5,297.9 543.0,296.3 542.5,294.7 542.0,293.1 541.5,291.4 541.0,289.8 540.5,288.2 540.0,286.7 539.5,285.1 539.0,283.5 538.5,282.0 538.0,280.5 537.5,279.0 537.0,277.5 536.5,276.0 536.0,274.6 535.5,273.1 535.0,271.8 534.5,270.4 534.0,269.0 533.5,267.7 533.0,266.4 532.5,265.2 532.0,264.0 531.5,262.8 531.0,261.6 530.5,260.5 530.0,259.4 529.5,258.4 529.0,257.3 528.5,256.4 528.0,255.5 527.5,254.6 527.0,253.7 526.5,253.0 526.0,252.2 525.5,251.5 525.0,250.9 524.5,250.3 524.0,249.8 523.5,249.3 523.0,248.9 522.5,248.6 522.0,248.3 521.5,248.1 521.0,247.9 520.5,247.8 520.0,247.8 519.5,247.8 519.0,247.9 518.5,248.1 518.0,248.4 517.5,248.7 517.0,249.1 516.5,249.6 516.0,250.2 515.5,250.9 515.0,251.6 514.5,252.4 514.0,253.3 513.5,254.2 513.0,255.2 512.5,256.3 512.0,257.4 511.5,258.6 511.0,259.8 510.5,261.1 510.0,262.4 509.5,263.8 509.0,265.2 508.5,266.6 508.0,268.1 507.5,269.6 507.0,271.2 506.5,272.8 506.0,274.4 505.5,276.0 505.0,277.7 504.5,279.3 504.0,281.0 503.5,282.7 503.0,284.4 502.5,286.2 502.0,287.9 501.5,289.7 501.0,291.4 500.5,293.2 500.0,295.0 499.5,296.7 499.0,298.5 498.5,300.3 498.0,302.1 497.5,303.8 497.0,305.6 496.5,307.3 496.0,309.1 495.5,310.8 495.0,312.5 494.5,314.2 494.0,315.9 493.5,317.5 493.0,319.2 492.5,320.8 492.0,322.4 491.5,324.0 491.0,325.6 490.5,327.2 490.0,328.8 489.5,330.3 489.0,331.9 488.5,333.5 488.0,335.0 487.5,336.6 487.0,338.2 486.5,339.7 486.0,341.3 485.5,342.8 485.0,344.4 484.5,345.9 484.0,347.4 483.5,348.9 483.0,350.4 482.5,351.9 482.0,353.4 481.5,354.8 481.0,356.2 480.5,357.6 480.0,359.0 479.5,360.3 479.0,361.6 478.5,362.9 478.0,364.1 477.5,365.4 477.0,366.5 476.5,367.7 476.0,368.8 475.5,369.9 475.0,370.9 474.5,372.0 474.0,372.9 473.5,373.9 473.0,374.8 472.5,375.7 472.0,376.6 471.5,377.4 471.0,378.2 470.5,379.0 470.0,379.7 469.5,380.4 469.0,381.1 468.5,381.7 468.0,382.3 467.5,382.9 467.0,383.4 466.5,383.9 466.0,384.4 465.5,384.8 465.0,385.3 464.5,385.6 464.0,386.0 463.5,386.3 463.0,386.6 462.5,386.9 462.0,387.1 461.5,387.3 461.0,387.4 460.5,387.6 460.0,387.6 459.5,387.7 459.0,387.7 458.5,387.7 458.0,387.7 457.5,387.6 457.0,387.6 456.5,387.4 456.0,387.3 455.5,387.1 455.0,386.9 454.5,386.6 454.0,386.3 453.5,386.0 453.0,385.7 452.5,385.3 452.0,384.9 451.5,384.4 451.0,384.0 450.5,383.4 450.0,382.9 449.5,382.3 449.0,381.7 448.5,381.1 448.0,380.4 447.5,379.7 447.0,379.0 446.5,378.2 446.0,377.4 445.5,376.6 445.0,375.7 444.5,374.8 444.0,373.8 443.5,372.8 443.0,371.8 442.5,370.7 442.0,369.6 441.5,368.5 441.0,367.3 440.5,366.1 440.0,364.8 439.5,363.5 439.0,362.1 438.5,360.8 438.0,359.3 437.5,357.9 437.0,356.3 436.5,354.8 436.0,353.2 435.5,351.6 435.0,349.9 434.5,348.1 434.0,346.4 433.5,344.5 433.0,342.7 432.5,340.8 432.0,338.8 431.5,336.8 431.0,334.7 430.5,332.6 430.0,330.5 429.5,328.3 429.0,326.1 428.5,323.9 428.0,321.7 427.5,319.4 427.0,317.1 426.5,314.8 426.0,312.5 425.5,310.2 425.0,307.9 424.5,305.7 424.0,303.4 423.5,301.1 423.0,298.9 422.5,296.7 422.0,294.5 421.5,292.3 421.0,290.2 420.5,288.0 420.0,285.9 419.5,283.8 419.0,281.6 418.5,279.5 418.0,277.4 417.5,275.2 417.0,273.0 416.5,270.9 416.0,268.7 415.5,266.4 415.0,264.2 414.5,261.9 414.0,259.6 413.5,257.3 413.0,255.0 412.5,252.8 412.0,250.5 411.5,248.3 411.0,246.1 410.5,244.0 410.0,241.9 409.5,239.8 409.0,237.8 408.5,235.9 408.0,234.1 407.5,232.3 407.0,230.6 406.5,229.0 406.0,227.5 405.5,226.1 405.0,224.8 404.5,223.6 404.0,222.5 403.5,221.5 403.0,220.5 402.5,219.6 402.0,218.9 401.5,218.2 401.0,217.5 400.5,217.0 400.0,216.5 399.5,216.2 399.0,215.9 398.5,215.6 398.0,215.5 397.5,215.4 397.0,215.4 396.5,215.5 396.0,215.6 395.5,215.8 395.0,216.1 394.5,216.4 394.0,216.8 393.5,217.3 393.0,217.8 392.5,218.4 392.0,219.1 391.5,219.8 391.0,220.6 390.5,221.4 390.0,222.3 389.5,223.2 389.0,224.2 388.5,225.3 388.0,226.4 387.5,227.5 387.0,228.7 386.5,230.0 386.0,231.2 385.5,232.6 385.0,234.0 384.5,235.4 384.0,236.8 383.5,238.3 383.0,239.9 382.5,241.5 382.0,243.1 381.5,244.7 381.0,246.4 380.5,248.1 380.0,249.8 379.5,251.6 379.0,253.3 378.5,255.1 378.0,256.8 377.5,258.6 377.0,260.3 376.5,262.1 376.0,263.8 375.5,265.4 375.0,267.1 374.5,268.7 374.0,270.3 373.5,271.8 373.0,273.2 372.5,274.7 372.0,276.0 371.5,277.3 371.0,278.5 370.5,279.6 370.0,280.7 369.5,281.7 369.0,282.5 368.5,283.3 368.0,284.0 367.5,284.5" fill="#D05B5B" fill-opacity="0.3"/>
<polyline points="367.5,251.0 368.0,250.5 368.5,249.8 369.0,249.0 369.5,248.2 370.0,247.2 370.5,246.1 371.0,245.0 371.5,243.8 372.0,242.5 372.5,241.2 373.0,239.7 373.5,238.3 374.0,236.8 374.5,235.2 375.0,233.6 375.5,231.9 376.0,230.3 376.5,228.6 377.0,226.8 377.5,225.1 378.0,223.3 378.5,221.6 379.0,219.8 379.5,218.1 380.0,216.3 380.5,214.6 381.0,212.9 381.5,211.2 382.0,209.6 382.5,208.0 383.0,206.4 383.5,204.8 384.0,203.3 384.5,201.9 385.0,200.5 385.5,199.1 386.0,197.7 386.5,196.5 387.0,195.2 387.5,194.0 388.0,192.9 388.5,191.8 389.0,190.7 389.5,189.7 390.0,188.8 390.5,187.9 391.0,187.1 391.5,186.3 392.0,185.6 392.5,184.9 393.0,184.3 393.5,183.8 394.0,183.3 394.5,182.9 395.0,182.6 395.5,182.3 396.0,182.1 396.5,182.0 397.0,181.9 397.5,181.9 398.0,182.0 398.5,182.1 399.0,182.4 399.5,182.7 400.0,183.0 400.5,183.5 401.0,184.0 401.5,184.7 402.0,185.4 402.5,186.1 403.0,187.0 403.5,188.0 404.0,189.0 404.5,190.1 405.0,191.3 405.5,192.6 406.0,194.0 406.5,195.5 407.0,197.1 407.5,198.8 408.0,200.6 408.5,202.4 409.0,204.3 409.5,206.3 410.0,208.4 410.5,210.5 411.0,212.6 411.5,214.8 412.0,217.0 412.5,219.3 413.0,221.5 413.5,223.8 414.0,226.1 414.5,228.4 415.0,230.7 415.5,232.9 416.0,235.2 416.5,237.4 417.0,239.5 417.5,241.7 418.0,243.9 418.5,246.0 419.0,248.1 419.5,250.3 420.0,252.4 420.5,254.5 421.0,256.7 421.5,258.8 422.0,261.0 422.5,263.2 423.0,265.4 423.5,267.6 424.0,269.9 424.5,272.2 425.0,274.4 425.5,276.7 426.0,279.0 426.5,281.3 427.0,283.6 427.5,285.9 428.0,288.2 428.5,290.4 429.0,292.6 429.5,294.8 430.0,297.0 430.5,299.1 431.0,301.2 431.5,303.3 432.0,305.3 432.5,307.3 433.0,309.2 433.5,311.0 434.0,312.9 434.5,314.6 435.0,316.4 435.5,318.1 436.0,319.7 436.5,321.3 437.0,322.8 437.5,324.4 438.0,325.8 438.5,327.3 439.0,328.6 439.5,330.0 440.0,331.3 440.5,332.6 441.0,333.8 441.5,335.0 442.0,336.1 442.5,337.2 443.0,338.3 443.5,339.3 444.0,340.3 444.5,341.3 445.0,342.2 445.5,343.1 446.0,343.9 446.5,344.7 447.0,345.5 447.5,346.2 448.0,346.9 448.5,347.6 449.0,348.2 449.5,348.8 450.0,349.4 450.5,349.9 451.0,350.5 451.5,350.9 452.0,351.4 452.5,351.8 453.0,352.2 453.5,352.5 454.0,352.8 454.5,353.1 455.0,353.4 455.5,353.6 456.0,353.8 456.5,353.9 457.0,354.1 457.5,354.1 458.0,354.2 458.5,354.2 459.0,354.2 459.5,354.2 460.0,354.1 460.5,354.1 461.0,353.9 461.5,353.8 462.0,353.6 462.5,353.4 463.0,353.1 463.5,352.8 464.0,352.5 464.5,352.1 465.0,351.8 465.5,351.3 466.0,350.9 466.5,350.4 467.0,349.9 467.5,349.4 468.0,348.8 468.5,348.2 469.0,347.6 469.5,346.9 470.0,346.2 470.5,345.5 471.0,344.7 471.5,343.9 472.0,343.1 472.5,342.2 473.0,341.3 473.5,340.4 474.0,339.4 474.5,338.5 475.0,337.4 475.5,336.4 476.0,335.3 476.5,334.2 477.0,333.0 477.5,331.9 478.0,330.6 478.5,329.4 479.0,328.1 479.5,326.8 480.0,325.5 480.5,324.1 481.0,322.7 481.5,321.3 482.0,319.9 482.5,318.4 483.0,316.9 483.5,315.4 484.0,313.9 484.5,312.4 485.0,310.9 485.5,309.3 486.0,307.8 486.5,306.2 487.0,304.7 487.5,303.1 488.0,301.5 488.5,300.0 489.0,298.4 489.5,296.8 490.0,295.3 490.5,293.7 491.0,292.1 491.5,290.5 492.0,288.9 492.5,287.3 493.0,285.7 493.5,284.0 494.0,282.4 494.5,280.7 495.0,279.0 495.5,277.3 496.0,275.6 496.5,273.8 497.0,272.1 497.5,270.3 498.0,268.6 498.5,266.8 499.0,265.0 499.5,263.2 500.0,261.5 500.5,259.7 501.0,257.9 501.5,256.2 502.0,254.4 502.5,252.7 503.0,250.9 503.5,249.2 504.0,247.5 504.5,245.8 505.0,244.2 505.5,242.5 506.0,240.9 506.5,239.3 507.0,237.7 507.5,236.1 508.0,234.6 508.5,233.1 509.0,231.7 509.5,230.3 510.0,228.9 510.5,227.6 511.0,226.3 511.5,225.1 512.0,223.9 512.5,222.8 513.0,221.7 513.5,220.7 514.0,219.8 514.5,218.9 515.0,218.1 515.5,217.4 516.0,216.7 516.5,216.1 517.0,215.6 517.5,215.2 518.0,214.9 518.5,214.6 519.0,214.4 519.5,214.3 520.0,214.3 520.5,214.3 521.0,214.4 521.5,214.6 522.0,214.8 522.5,215.1 523.0,215.4 523.5,215.8 524.0,216.3 524.5,216.8 525.0,217.4 525.5,218.0 526.0,218.7 526.5,219.5 527.0,220.2 527.5,221.1 528.0,222.0 528.5,222.9 529.0,223.8 529.5,224.9 530.0,225.9 530.5,227.0 531.0,228.1 531.5,229.3 532.0,230.5 532.5,231.7 533.0,232.9 533.5,234.2 534.0,235.5 534.5,236.9 535.0,238.3 535.5,239.6 536.0,241.1 536.5,242.5 537.0,244.0 537.5,245.5 538.0,247.0 538.5,248.5 539.0,250.0 539.5,251.6 540.0,253.2 540.5,254.7 541.0,256.3 541.5,257.9 542.0,259.6 542.5,261.2 543.0,262.8 543.5,264.4 544.0,266.1 544.5,267.7 545.0,269.3 545.5,270.9 546.0,272.5 546.5,274.0 547.0,275.5 547.5,277.0 548.0,278.5 548.5,279.9 549.0,281.2 549.5,282.5 550.0,283.8 550.5,285.0 551.0,286.1 551.5,287.1 552.0,288.1 552.5,289.0 553.0,289.9 553.5,290.6 554.0,291.3 554.5,291.9 555.0,292.5 555.5,292.9 556.0,293.3 556.5,293.7 557.0,293.9 557.5,294.1 558.0,294.2 558.5,294.3 559.0,294.2 559.5,294.1 560.0,294.0 560.5,293.7 561.0,293.4 561.5,293.0 562.0,292.6 562.5,292.1 563.0,291.5 563.5,290.9 564.0,290.1 564.5,289.4 565.0,288.5 565.5,287.6 566.0,286.6 566.5,285.6 567.0,284.4 567.5,283.3 568.0,282.0 568.5,280.7 569.0,279.3 569.5,277.9 570.0,276.4 570.5,274.8 571.0,273.2 571.5,271.5 572.0,269.8 572.5,268.0 573.0,266.2 573.5,264.3 574.0,262.4 574.5,260.4 575.0,258.4 575.5,256.4 576.0,254.3 576.5,252.1 577.0,250.0 577.5,247.8 578.0,245.5 578.5,243.2 579.0,240.9 579.5,238.6 580.0,236.3 580.5,233.9 581.0,231.5 581.5,229.1 582.0,226.8 582.5,224.4 583.0,222.1 583.5,219.8 584.0,217.5 584.5,215.2 585.0,213.0 585.5,210.9 586.0,208.8 586.5,206.7 587.0,204.7 587.5,202.8 588.0,200.9 588.5,199.1 589.0,197.3 589.5,195.6 590.0,194.0 590.5,192.4 591.0,190.9 591.5,189.5 592.0,188.2 592.5,186.9 593.0,185.7 593.5,184.6 594.0,183.5 594.5,182.6 595.0,181.7 595.5,180.9 596.0,180.1 596.5,179.4 597.0,178.8 597.5,178.3 598.0,177.8 598.5,177.5 599.0,177.2 599.5,176.9 600.0,176.7 600.5,176.7 601.0,176.6 601.5,176.7 602.0,176.8 602.5,177.0 603.0,177.3 603.5,177.6 604.0,178.0 604.5,178.5 605.0,179.1 605.5,179.7 606.0,180.4 606.5,181.2 607.0,182.0 607.5,183.0 608.0,183.9 608.5,185.0 609.0,186.1 609.5,187.3 610.0,188.6 610.5,190.0 611.0,191.4 611.5,192.8 612.0,194.4 612.5,195.9 613.0,197.6 613.5,199.2 614.0,200.9 614.5,202.7 615.0,204.5 615.5,206.3 616.0,208.1 616.5,209.9 617.0,211.8 617.5,213.7 618.0,215.5 618.5,217.4 619.0,219.3 619.5,221.1 620.0,223.0 620.5,224.8 621.0,226.6 621.5,228.4 622.0,230.2 622.5,231.9 623.0,233.6 623.5,235.3 624.0,236.9 624.5,238.5 625.0,240.0 625.5,241.4 626.0,242.8 626.5,244.2 627.0,245.5 627.5,246.8 628.0,248.0 628.5,249.1 629.0,250.2 629.5,251.3 630.0,252.2 630.5,253.2 631.0,254.1 631.5,254.9 632.0,255.7 632.5,256.4 633.0,257.0 633.5,257.6 634.0,258.2 634.5,258.7 635.0,259.1 635.5,259.5 636.0,259.8 636.5,260.1 637.0,260.3 637.5,260.4 638.0,260.5 638.5,260.5 639.0,260.5 639.5,260.4 640.0,260.2 640.5,260.0 641.0,259.7 641.5,259.3 642.0,258.9 642.5,258.5 643.0,257.9" fill="none" stroke="#B0403A" stroke-width="4.3" stroke-dasharray="4.3 4.2" stroke-linejoin="miter"/>
</g>
<line x1="40" y1="457.7" x2="46" y2="457.7" stroke="#ABAFB4" stroke-width="1.6"/>
<text transform="translate(35.2,461.8) scale(0.9,1)" font-family="Liberation Sans, sans-serif" font-size="13.8" text-anchor="end" fill="#000">0</text>
<line x1="40" y1="374.5" x2="46" y2="374.5" stroke="#ABAFB4" stroke-width="1.6"/>
<text transform="translate(35.2,378.6) scale(0.9,1)" font-family="Liberation Sans, sans-serif" font-size="13.8" text-anchor="end" fill="#000">1</text>
<line x1="40" y1="291.3" x2="46" y2="291.3" stroke="#ABAFB4" stroke-width="1.6"/>
<text transform="translate(35.2,295.4) scale(0.9,1)" font-family="Liberation Sans, sans-serif" font-size="13.8" text-anchor="end" fill="#000">2</text>
<line x1="40" y1="208.0" x2="46" y2="208.0" stroke="#ABAFB4" stroke-width="1.6"/>
<text transform="translate(35.2,212.1) scale(0.9,1)" font-family="Liberation Sans, sans-serif" font-size="13.8" text-anchor="end" fill="#000">3</text>
<line x1="40" y1="124.8" x2="46" y2="124.8" stroke="#ABAFB4" stroke-width="1.6"/>
<text transform="translate(35.2,128.9) scale(0.9,1)" font-family="Liberation Sans, sans-serif" font-size="13.8" text-anchor="end" fill="#000">4</text>
<line x1="40" y1="41.6" x2="46" y2="41.6" stroke="#ABAFB4" stroke-width="1.6"/>
<text transform="translate(35.2,45.7) scale(0.9,1)" font-family="Liberation Sans, sans-serif" font-size="13.8" text-anchor="end" fill="#000">5</text>
<text transform="translate(10.2,249) rotate(-90)" x="0" y="0" font-family="Liberation Sans, sans-serif" font-size="14.5" text-anchor="middle" fill="#000">DMI (kg)</text>
</svg>
</body></html>
